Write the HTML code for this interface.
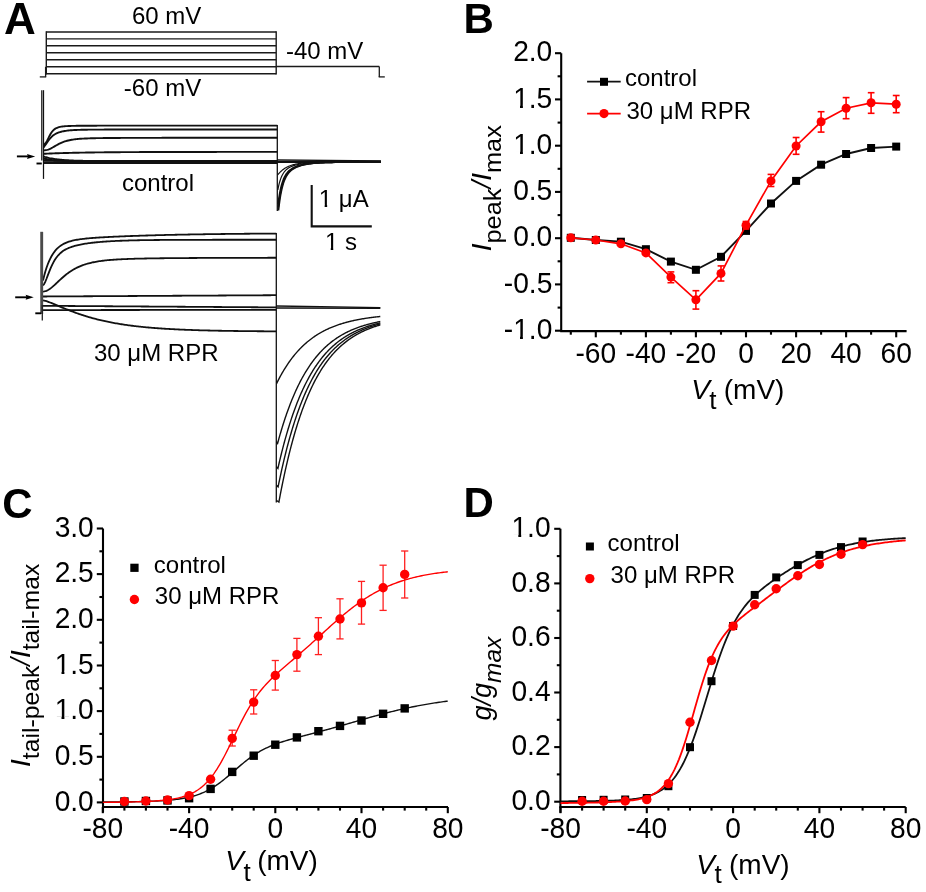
<!DOCTYPE html>
<html><head><meta charset="utf-8"><style>
html,body{margin:0;padding:0;background:#fff;}
svg{display:block;font-family:"Liberation Sans", sans-serif;will-change:transform;}
svg text{fill:#000;}
</style></head><body>
<svg width="926" height="892" viewBox="0 0 926 892">
<rect width="926" height="892" fill="#fff"/>
<text x="4" y="33.5" font-size="44" font-weight="bold">A</text>
<line x1="46.3" y1="32" x2="276.2" y2="32" stroke="#1a1a1a" stroke-width="1.4"/>
<line x1="46.3" y1="38.9" x2="276.2" y2="38.9" stroke="#1a1a1a" stroke-width="1.4"/>
<line x1="46.3" y1="45.8" x2="276.2" y2="45.8" stroke="#1a1a1a" stroke-width="1.4"/>
<line x1="46.3" y1="52.8" x2="276.2" y2="52.8" stroke="#1a1a1a" stroke-width="1.4"/>
<line x1="46.3" y1="59.8" x2="276.2" y2="59.8" stroke="#1a1a1a" stroke-width="1.4"/>
<line x1="46.3" y1="66.8" x2="276.2" y2="66.8" stroke="#1a1a1a" stroke-width="1.4"/>
<line x1="46.3" y1="73.7" x2="276.2" y2="73.7" stroke="#1a1a1a" stroke-width="1.4"/>
<line x1="46.3" y1="31.3" x2="46.3" y2="74.4" stroke="#1a1a1a" stroke-width="1.4"/>
<line x1="276.2" y1="31.3" x2="276.2" y2="74.4" stroke="#1a1a1a" stroke-width="1.4"/>
<line x1="45.6" y1="66.8" x2="45.6" y2="76.9" stroke="#1a1a1a" stroke-width="1.3"/>
<line x1="39.8" y1="76.9" x2="46.2" y2="76.9" stroke="#1a1a1a" stroke-width="1.3"/>
<line x1="276.2" y1="66.5" x2="379.3" y2="66.5" stroke="#1a1a1a" stroke-width="1.4"/>
<line x1="379.3" y1="66.5" x2="379.3" y2="76.9" stroke="#1a1a1a" stroke-width="1.3"/>
<line x1="378.7" y1="76.9" x2="384.8" y2="76.9" stroke="#1a1a1a" stroke-width="1.3"/>
<text x="132" y="24.3" font-size="24">60 mV</text>
<text x="123.8" y="96.4" font-size="24">-60 mV</text>
<text x="286" y="59.3" font-size="24">-40 mV</text>
<path d="M43.60,144.40 L44.77,143.91 L45.95,142.75 L47.12,140.76 L48.30,138.35 L49.47,135.95 L50.65,133.81 L51.82,132.02 L52.99,130.60 L54.17,129.49 L55.34,128.65 L56.52,128.01 L57.69,127.52 L58.87,127.15 L60.04,126.87 L61.22,126.65 L62.39,126.48 L63.56,126.35 L64.74,126.24 L65.91,126.16 L67.09,126.09 L68.26,126.03 L69.44,125.98 L70.61,125.94 L71.78,125.91 L72.96,125.88 L74.13,125.85 L75.31,125.83 L76.48,125.81 L77.66,125.79 L78.83,125.78 L80.01,125.76 L81.18,125.75 L82.35,125.74 L83.53,125.73 L84.70,125.72 L85.88,125.72 L87.05,125.71 L88.23,125.70 L89.40,125.70 L90.57,125.69 L91.75,125.69 L92.92,125.69 L94.10,125.68 L95.27,125.68 L96.45,125.68 L97.62,125.67 L98.80,125.67 L99.97,125.67 L101.14,125.67 L102.32,125.67 L103.49,125.67 L104.67,125.66 L105.84,125.66 L107.02,125.66 L108.19,125.66 L109.36,125.66 L110.54,125.66 L111.71,125.66 L112.89,125.66 L114.06,125.66 L115.24,125.66 L116.41,125.66 L117.59,125.66 L118.76,125.66 L119.93,125.66 L121.11,125.66 L122.28,125.66 L123.46,125.66 L124.63,125.66 L125.81,125.66 L126.98,125.66 L128.15,125.66 L129.33,125.66 L130.50,125.66 L131.68,125.66 L132.85,125.66 L134.03,125.66 L135.20,125.66 L136.38,125.66 L137.55,125.66 L138.72,125.66 L139.90,125.65 L141.07,125.65 L142.25,125.65 L143.42,125.65 L144.60,125.65 L145.77,125.65 L146.94,125.65 L148.12,125.65 L149.29,125.65 L150.47,125.65 L151.64,125.65 L152.82,125.65 L153.99,125.65 L155.17,125.65 L156.34,125.65 L157.51,125.65 L158.69,125.65 L159.86,125.65 L161.04,125.65 L162.21,125.65 L163.39,125.65 L164.56,125.65 L165.73,125.65 L166.91,125.65 L168.08,125.65 L169.26,125.65 L170.43,125.65 L171.61,125.65 L172.78,125.65 L173.96,125.65 L175.13,125.65 L176.30,125.65 L177.48,125.65 L178.65,125.65 L179.83,125.65 L181.00,125.65 L182.18,125.65 L183.35,125.65 L184.52,125.65 L185.70,125.65 L186.87,125.65 L188.05,125.65 L189.22,125.65 L190.40,125.65 L191.57,125.65 L192.75,125.65 L193.92,125.65 L195.09,125.65 L196.27,125.65 L197.44,125.65 L198.62,125.65 L199.79,125.65 L200.97,125.65 L202.14,125.65 L203.31,125.65 L204.49,125.65 L205.66,125.65 L206.84,125.65 L208.01,125.65 L209.19,125.65 L210.36,125.65 L211.54,125.65 L212.71,125.65 L213.88,125.65 L215.06,125.65 L216.23,125.65 L217.41,125.65 L218.58,125.65 L219.76,125.65 L220.93,125.65 L222.10,125.65 L223.28,125.65 L224.45,125.65 L225.63,125.65 L226.80,125.65 L227.98,125.65 L229.15,125.65 L230.33,125.65 L231.50,125.65 L232.67,125.65 L233.85,125.65 L235.02,125.65 L236.20,125.65 L237.37,125.65 L238.55,125.65 L239.72,125.65 L240.89,125.65 L242.07,125.65 L243.24,125.65 L244.42,125.65 L245.59,125.65 L246.77,125.65 L247.94,125.65 L249.12,125.65 L250.29,125.65 L251.46,125.65 L252.64,125.65 L253.81,125.65 L254.99,125.65 L256.16,125.65 L257.34,125.65 L258.51,125.65 L259.68,125.65 L260.86,125.65 L262.03,125.65 L263.21,125.65 L264.38,125.65 L265.56,125.65 L266.73,125.65 L267.91,125.65 L269.08,125.65 L270.25,125.65 L271.43,125.65 L272.60,125.65 L273.78,125.65 L274.95,125.65 L276.13,125.65 L277.30,125.65" fill="none" stroke="#111" stroke-width="1.9"/>
<path d="M43.60,147.40 L44.77,145.76 L45.95,144.14 L47.12,142.46 L48.30,140.80 L49.47,139.24 L50.65,137.85 L51.82,136.64 L52.99,135.61 L54.17,134.74 L55.34,134.00 L56.52,133.38 L57.69,132.86 L58.87,132.42 L60.04,132.04 L61.22,131.72 L62.39,131.44 L63.56,131.21 L64.74,131.00 L65.91,130.82 L67.09,130.66 L68.26,130.53 L69.44,130.41 L70.61,130.31 L71.78,130.22 L72.96,130.14 L74.13,130.07 L75.31,130.01 L76.48,129.95 L77.66,129.90 L78.83,129.86 L80.01,129.83 L81.18,129.79 L82.35,129.76 L83.53,129.74 L84.70,129.72 L85.88,129.70 L87.05,129.68 L88.23,129.67 L89.40,129.65 L90.57,129.64 L91.75,129.63 L92.92,129.62 L94.10,129.61 L95.27,129.61 L96.45,129.60 L97.62,129.59 L98.80,129.59 L99.97,129.59 L101.14,129.58 L102.32,129.58 L103.49,129.58 L104.67,129.57 L105.84,129.57 L107.02,129.57 L108.19,129.57 L109.36,129.57 L110.54,129.56 L111.71,129.56 L112.89,129.56 L114.06,129.56 L115.24,129.56 L116.41,129.56 L117.59,129.56 L118.76,129.56 L119.93,129.56 L121.11,129.56 L122.28,129.56 L123.46,129.56 L124.63,129.56 L125.81,129.56 L126.98,129.56 L128.15,129.56 L129.33,129.56 L130.50,129.56 L131.68,129.55 L132.85,129.55 L134.03,129.55 L135.20,129.55 L136.38,129.55 L137.55,129.55 L138.72,129.55 L139.90,129.55 L141.07,129.55 L142.25,129.55 L143.42,129.55 L144.60,129.55 L145.77,129.55 L146.94,129.55 L148.12,129.55 L149.29,129.55 L150.47,129.55 L151.64,129.55 L152.82,129.55 L153.99,129.55 L155.17,129.55 L156.34,129.55 L157.51,129.55 L158.69,129.55 L159.86,129.55 L161.04,129.55 L162.21,129.55 L163.39,129.55 L164.56,129.55 L165.73,129.55 L166.91,129.55 L168.08,129.55 L169.26,129.55 L170.43,129.55 L171.61,129.55 L172.78,129.55 L173.96,129.55 L175.13,129.55 L176.30,129.55 L177.48,129.55 L178.65,129.55 L179.83,129.55 L181.00,129.55 L182.18,129.55 L183.35,129.55 L184.52,129.55 L185.70,129.55 L186.87,129.55 L188.05,129.55 L189.22,129.55 L190.40,129.55 L191.57,129.55 L192.75,129.55 L193.92,129.55 L195.09,129.55 L196.27,129.55 L197.44,129.55 L198.62,129.55 L199.79,129.55 L200.97,129.55 L202.14,129.55 L203.31,129.55 L204.49,129.55 L205.66,129.55 L206.84,129.55 L208.01,129.55 L209.19,129.55 L210.36,129.55 L211.54,129.55 L212.71,129.55 L213.88,129.55 L215.06,129.55 L216.23,129.55 L217.41,129.55 L218.58,129.55 L219.76,129.55 L220.93,129.55 L222.10,129.55 L223.28,129.55 L224.45,129.55 L225.63,129.55 L226.80,129.55 L227.98,129.55 L229.15,129.55 L230.33,129.55 L231.50,129.55 L232.67,129.55 L233.85,129.55 L235.02,129.55 L236.20,129.55 L237.37,129.55 L238.55,129.55 L239.72,129.55 L240.89,129.55 L242.07,129.55 L243.24,129.55 L244.42,129.55 L245.59,129.55 L246.77,129.55 L247.94,129.55 L249.12,129.55 L250.29,129.55 L251.46,129.55 L252.64,129.55 L253.81,129.55 L254.99,129.55 L256.16,129.55 L257.34,129.55 L258.51,129.55 L259.68,129.55 L260.86,129.55 L262.03,129.55 L263.21,129.55 L264.38,129.55 L265.56,129.55 L266.73,129.55 L267.91,129.55 L269.08,129.55 L270.25,129.55 L271.43,129.55 L272.60,129.55 L273.78,129.55 L274.95,129.55 L276.13,129.55 L277.30,129.55" fill="none" stroke="#111" stroke-width="1.9"/>
<path d="M43.60,150.40 L44.77,150.28 L45.95,150.13 L47.12,149.90 L48.30,149.57 L49.47,149.13 L50.65,148.58 L51.82,147.96 L52.99,147.29 L54.17,146.60 L55.34,145.89 L56.52,145.21 L57.69,144.55 L58.87,143.92 L60.04,143.34 L61.22,142.80 L62.39,142.30 L63.56,141.85 L64.74,141.45 L65.91,141.08 L67.09,140.75 L68.26,140.46 L69.44,140.20 L70.61,139.96 L71.78,139.76 L72.96,139.57 L74.13,139.41 L75.31,139.26 L76.48,139.13 L77.66,139.01 L78.83,138.91 L80.01,138.82 L81.18,138.73 L82.35,138.66 L83.53,138.59 L84.70,138.53 L85.88,138.48 L87.05,138.43 L88.23,138.39 L89.40,138.35 L90.57,138.31 L91.75,138.28 L92.92,138.25 L94.10,138.22 L95.27,138.20 L96.45,138.17 L97.62,138.15 L98.80,138.13 L99.97,138.11 L101.14,138.09 L102.32,138.08 L103.49,138.06 L104.67,138.05 L105.84,138.04 L107.02,138.02 L108.19,138.01 L109.36,138.00 L110.54,137.99 L111.71,137.98 L112.89,137.97 L114.06,137.97 L115.24,137.96 L116.41,137.95 L117.59,137.94 L118.76,137.94 L119.93,137.93 L121.11,137.92 L122.28,137.92 L123.46,137.91 L124.63,137.91 L125.81,137.90 L126.98,137.90 L128.15,137.89 L129.33,137.89 L130.50,137.88 L131.68,137.88 L132.85,137.88 L134.03,137.87 L135.20,137.87 L136.38,137.87 L137.55,137.86 L138.72,137.86 L139.90,137.86 L141.07,137.86 L142.25,137.85 L143.42,137.85 L144.60,137.85 L145.77,137.85 L146.94,137.84 L148.12,137.84 L149.29,137.84 L150.47,137.84 L151.64,137.84 L152.82,137.83 L153.99,137.83 L155.17,137.83 L156.34,137.83 L157.51,137.83 L158.69,137.83 L159.86,137.83 L161.04,137.83 L162.21,137.82 L163.39,137.82 L164.56,137.82 L165.73,137.82 L166.91,137.82 L168.08,137.82 L169.26,137.82 L170.43,137.82 L171.61,137.82 L172.78,137.82 L173.96,137.82 L175.13,137.81 L176.30,137.81 L177.48,137.81 L178.65,137.81 L179.83,137.81 L181.00,137.81 L182.18,137.81 L183.35,137.81 L184.52,137.81 L185.70,137.81 L186.87,137.81 L188.05,137.81 L189.22,137.81 L190.40,137.81 L191.57,137.81 L192.75,137.81 L193.92,137.81 L195.09,137.81 L196.27,137.81 L197.44,137.81 L198.62,137.81 L199.79,137.81 L200.97,137.81 L202.14,137.81 L203.31,137.80 L204.49,137.80 L205.66,137.80 L206.84,137.80 L208.01,137.80 L209.19,137.80 L210.36,137.80 L211.54,137.80 L212.71,137.80 L213.88,137.80 L215.06,137.80 L216.23,137.80 L217.41,137.80 L218.58,137.80 L219.76,137.80 L220.93,137.80 L222.10,137.80 L223.28,137.80 L224.45,137.80 L225.63,137.80 L226.80,137.80 L227.98,137.80 L229.15,137.80 L230.33,137.80 L231.50,137.80 L232.67,137.80 L233.85,137.80 L235.02,137.80 L236.20,137.80 L237.37,137.80 L238.55,137.80 L239.72,137.80 L240.89,137.80 L242.07,137.80 L243.24,137.80 L244.42,137.80 L245.59,137.80 L246.77,137.80 L247.94,137.80 L249.12,137.80 L250.29,137.80 L251.46,137.80 L252.64,137.80 L253.81,137.80 L254.99,137.80 L256.16,137.80 L257.34,137.80 L258.51,137.80 L259.68,137.80 L260.86,137.80 L262.03,137.80 L263.21,137.80 L264.38,137.80 L265.56,137.80 L266.73,137.80 L267.91,137.80 L269.08,137.80 L270.25,137.80 L271.43,137.80 L272.60,137.80 L273.78,137.80 L274.95,137.80 L276.13,137.80 L277.30,137.80" fill="none" stroke="#111" stroke-width="1.9"/>
<path d="M43.60,153.80 L44.77,153.75 L45.95,153.69 L47.12,153.64 L48.30,153.59 L49.47,153.54 L50.65,153.49 L51.82,153.45 L52.99,153.40 L54.17,153.36 L55.34,153.32 L56.52,153.28 L57.69,153.24 L58.87,153.20 L60.04,153.16 L61.22,153.12 L62.39,153.09 L63.56,153.05 L64.74,153.02 L65.91,152.99 L67.09,152.96 L68.26,152.93 L69.44,152.90 L70.61,152.87 L71.78,152.84 L72.96,152.81 L74.13,152.79 L75.31,152.76 L76.48,152.74 L77.66,152.71 L78.83,152.69 L80.01,152.66 L81.18,152.64 L82.35,152.62 L83.53,152.60 L84.70,152.58 L85.88,152.56 L87.05,152.54 L88.23,152.52 L89.40,152.50 L90.57,152.49 L91.75,152.47 L92.92,152.45 L94.10,152.44 L95.27,152.42 L96.45,152.41 L97.62,152.39 L98.80,152.38 L99.97,152.36 L101.14,152.35 L102.32,152.34 L103.49,152.33 L104.67,152.31 L105.84,152.30 L107.02,152.29 L108.19,152.28 L109.36,152.27 L110.54,152.26 L111.71,152.25 L112.89,152.24 L114.06,152.23 L115.24,152.22 L116.41,152.21 L117.59,152.20 L118.76,152.19 L119.93,152.18 L121.11,152.17 L122.28,152.17 L123.46,152.16 L124.63,152.15 L125.81,152.14 L126.98,152.14 L128.15,152.13 L129.33,152.12 L130.50,152.12 L131.68,152.11 L132.85,152.10 L134.03,152.10 L135.20,152.09 L136.38,152.09 L137.55,152.08 L138.72,152.08 L139.90,152.07 L141.07,152.07 L142.25,152.06 L143.42,152.06 L144.60,152.05 L145.77,152.05 L146.94,152.04 L148.12,152.04 L149.29,152.04 L150.47,152.03 L151.64,152.03 L152.82,152.02 L153.99,152.02 L155.17,152.02 L156.34,152.01 L157.51,152.01 L158.69,152.01 L159.86,152.00 L161.04,152.00 L162.21,152.00 L163.39,152.00 L164.56,151.99 L165.73,151.99 L166.91,151.99 L168.08,151.98 L169.26,151.98 L170.43,151.98 L171.61,151.98 L172.78,151.98 L173.96,151.97 L175.13,151.97 L176.30,151.97 L177.48,151.97 L178.65,151.96 L179.83,151.96 L181.00,151.96 L182.18,151.96 L183.35,151.96 L184.52,151.96 L185.70,151.95 L186.87,151.95 L188.05,151.95 L189.22,151.95 L190.40,151.95 L191.57,151.95 L192.75,151.95 L193.92,151.94 L195.09,151.94 L196.27,151.94 L197.44,151.94 L198.62,151.94 L199.79,151.94 L200.97,151.94 L202.14,151.94 L203.31,151.94 L204.49,151.93 L205.66,151.93 L206.84,151.93 L208.01,151.93 L209.19,151.93 L210.36,151.93 L211.54,151.93 L212.71,151.93 L213.88,151.93 L215.06,151.93 L216.23,151.93 L217.41,151.92 L218.58,151.92 L219.76,151.92 L220.93,151.92 L222.10,151.92 L223.28,151.92 L224.45,151.92 L225.63,151.92 L226.80,151.92 L227.98,151.92 L229.15,151.92 L230.33,151.92 L231.50,151.92 L232.67,151.92 L233.85,151.92 L235.02,151.92 L236.20,151.92 L237.37,151.91 L238.55,151.91 L239.72,151.91 L240.89,151.91 L242.07,151.91 L243.24,151.91 L244.42,151.91 L245.59,151.91 L246.77,151.91 L247.94,151.91 L249.12,151.91 L250.29,151.91 L251.46,151.91 L252.64,151.91 L253.81,151.91 L254.99,151.91 L256.16,151.91 L257.34,151.91 L258.51,151.91 L259.68,151.91 L260.86,151.91 L262.03,151.91 L263.21,151.91 L264.38,151.91 L265.56,151.91 L266.73,151.91 L267.91,151.91 L269.08,151.91 L270.25,151.91 L271.43,151.91 L272.60,151.91 L273.78,151.91 L274.95,151.91 L276.13,151.91 L277.30,151.91" fill="none" stroke="#111" stroke-width="1.9"/>
<path d="M43.60,156.50 L44.77,156.87 L45.95,157.21 L47.12,157.52 L48.30,157.81 L49.47,158.08 L50.65,158.32 L51.82,158.54 L52.99,158.75 L54.17,158.94 L55.34,159.11 L56.52,159.27 L57.69,159.42 L58.87,159.55 L60.04,159.68 L61.22,159.79 L62.39,159.90 L63.56,159.99 L64.74,160.08 L65.91,160.17 L67.09,160.24 L68.26,160.31 L69.44,160.37 L70.61,160.43 L71.78,160.49 L72.96,160.54 L74.13,160.58 L75.31,160.62 L76.48,160.66 L77.66,160.70 L78.83,160.73 L80.01,160.76 L81.18,160.79 L82.35,160.81 L83.53,160.83 L84.70,160.86 L85.88,160.88 L87.05,160.89 L88.23,160.91 L89.40,160.93 L90.57,160.94 L91.75,160.95 L92.92,160.96 L94.10,160.98 L95.27,160.99 L96.45,160.99 L97.62,161.00 L98.80,161.01 L99.97,161.02 L101.14,161.02 L102.32,161.03 L103.49,161.04 L104.67,161.04 L105.84,161.05 L107.02,161.05 L108.19,161.05 L109.36,161.06 L110.54,161.06 L111.71,161.06 L112.89,161.07 L114.06,161.07 L115.24,161.07 L116.41,161.07 L117.59,161.08 L118.76,161.08 L119.93,161.08 L121.11,161.08 L122.28,161.08 L123.46,161.08 L124.63,161.09 L125.81,161.09 L126.98,161.09 L128.15,161.09 L129.33,161.09 L130.50,161.09 L131.68,161.09 L132.85,161.09 L134.03,161.09 L135.20,161.09 L136.38,161.09 L137.55,161.09 L138.72,161.09 L139.90,161.10 L141.07,161.10 L142.25,161.10 L143.42,161.10 L144.60,161.10 L145.77,161.10 L146.94,161.10 L148.12,161.10 L149.29,161.10 L150.47,161.10 L151.64,161.10 L152.82,161.10 L153.99,161.10 L155.17,161.10 L156.34,161.10 L157.51,161.10 L158.69,161.10 L159.86,161.10 L161.04,161.10 L162.21,161.10 L163.39,161.10 L164.56,161.10 L165.73,161.10 L166.91,161.10 L168.08,161.10 L169.26,161.10 L170.43,161.10 L171.61,161.10 L172.78,161.10 L173.96,161.10 L175.13,161.10 L176.30,161.10 L177.48,161.10 L178.65,161.10 L179.83,161.10 L181.00,161.10 L182.18,161.10 L183.35,161.10 L184.52,161.10 L185.70,161.10 L186.87,161.10 L188.05,161.10 L189.22,161.10 L190.40,161.10 L191.57,161.10 L192.75,161.10 L193.92,161.10 L195.09,161.10 L196.27,161.10 L197.44,161.10 L198.62,161.10 L199.79,161.10 L200.97,161.10 L202.14,161.10 L203.31,161.10 L204.49,161.10 L205.66,161.10 L206.84,161.10 L208.01,161.10 L209.19,161.10 L210.36,161.10 L211.54,161.10 L212.71,161.10 L213.88,161.10 L215.06,161.10 L216.23,161.10 L217.41,161.10 L218.58,161.10 L219.76,161.10 L220.93,161.10 L222.10,161.10 L223.28,161.10 L224.45,161.10 L225.63,161.10 L226.80,161.10 L227.98,161.10 L229.15,161.10 L230.33,161.10 L231.50,161.10 L232.67,161.10 L233.85,161.10 L235.02,161.10 L236.20,161.10 L237.37,161.10 L238.55,161.10 L239.72,161.10 L240.89,161.10 L242.07,161.10 L243.24,161.10 L244.42,161.10 L245.59,161.10 L246.77,161.10 L247.94,161.10 L249.12,161.10 L250.29,161.10 L251.46,161.10 L252.64,161.10 L253.81,161.10 L254.99,161.10 L256.16,161.10 L257.34,161.10 L258.51,161.10 L259.68,161.10 L260.86,161.10 L262.03,161.10 L263.21,161.10 L264.38,161.10 L265.56,161.10 L266.73,161.10 L267.91,161.10 L269.08,161.10 L270.25,161.10 L271.43,161.10 L272.60,161.10 L273.78,161.10 L274.95,161.10 L276.13,161.10 L277.30,161.10" fill="none" stroke="#111" stroke-width="1.9"/>
<path d="M43.60,158.50 L44.77,158.79 L45.95,159.04 L47.12,159.27 L48.30,159.47 L49.47,159.65 L50.65,159.81 L51.82,159.96 L52.99,160.08 L54.17,160.20 L55.34,160.30 L56.52,160.39 L57.69,160.46 L58.87,160.54 L60.04,160.60 L61.22,160.65 L62.39,160.70 L63.56,160.75 L64.74,160.79 L65.91,160.82 L67.09,160.85 L68.26,160.88 L69.44,160.90 L70.61,160.93 L71.78,160.94 L72.96,160.96 L74.13,160.98 L75.31,160.99 L76.48,161.00 L77.66,161.01 L78.83,161.02 L80.01,161.03 L81.18,161.04 L82.35,161.05 L83.53,161.05 L84.70,161.06 L85.88,161.06 L87.05,161.07 L88.23,161.07 L89.40,161.07 L90.57,161.08 L91.75,161.08 L92.92,161.08 L94.10,161.08 L95.27,161.09 L96.45,161.09 L97.62,161.09 L98.80,161.09 L99.97,161.09 L101.14,161.09 L102.32,161.09 L103.49,161.09 L104.67,161.09 L105.84,161.09 L107.02,161.10 L108.19,161.10 L109.36,161.10 L110.54,161.10 L111.71,161.10 L112.89,161.10 L114.06,161.10 L115.24,161.10 L116.41,161.10 L117.59,161.10 L118.76,161.10 L119.93,161.10 L121.11,161.10 L122.28,161.10 L123.46,161.10 L124.63,161.10 L125.81,161.10 L126.98,161.10 L128.15,161.10 L129.33,161.10 L130.50,161.10 L131.68,161.10 L132.85,161.10 L134.03,161.10 L135.20,161.10 L136.38,161.10 L137.55,161.10 L138.72,161.10 L139.90,161.10 L141.07,161.10 L142.25,161.10 L143.42,161.10 L144.60,161.10 L145.77,161.10 L146.94,161.10 L148.12,161.10 L149.29,161.10 L150.47,161.10 L151.64,161.10 L152.82,161.10 L153.99,161.10 L155.17,161.10 L156.34,161.10 L157.51,161.10 L158.69,161.10 L159.86,161.10 L161.04,161.10 L162.21,161.10 L163.39,161.10 L164.56,161.10 L165.73,161.10 L166.91,161.10 L168.08,161.10 L169.26,161.10 L170.43,161.10 L171.61,161.10 L172.78,161.10 L173.96,161.10 L175.13,161.10 L176.30,161.10 L177.48,161.10 L178.65,161.10 L179.83,161.10 L181.00,161.10 L182.18,161.10 L183.35,161.10 L184.52,161.10 L185.70,161.10 L186.87,161.10 L188.05,161.10 L189.22,161.10 L190.40,161.10 L191.57,161.10 L192.75,161.10 L193.92,161.10 L195.09,161.10 L196.27,161.10 L197.44,161.10 L198.62,161.10 L199.79,161.10 L200.97,161.10 L202.14,161.10 L203.31,161.10 L204.49,161.10 L205.66,161.10 L206.84,161.10 L208.01,161.10 L209.19,161.10 L210.36,161.10 L211.54,161.10 L212.71,161.10 L213.88,161.10 L215.06,161.10 L216.23,161.10 L217.41,161.10 L218.58,161.10 L219.76,161.10 L220.93,161.10 L222.10,161.10 L223.28,161.10 L224.45,161.10 L225.63,161.10 L226.80,161.10 L227.98,161.10 L229.15,161.10 L230.33,161.10 L231.50,161.10 L232.67,161.10 L233.85,161.10 L235.02,161.10 L236.20,161.10 L237.37,161.10 L238.55,161.10 L239.72,161.10 L240.89,161.10 L242.07,161.10 L243.24,161.10 L244.42,161.10 L245.59,161.10 L246.77,161.10 L247.94,161.10 L249.12,161.10 L250.29,161.10 L251.46,161.10 L252.64,161.10 L253.81,161.10 L254.99,161.10 L256.16,161.10 L257.34,161.10 L258.51,161.10 L259.68,161.10 L260.86,161.10 L262.03,161.10 L263.21,161.10 L264.38,161.10 L265.56,161.10 L266.73,161.10 L267.91,161.10 L269.08,161.10 L270.25,161.10 L271.43,161.10 L272.60,161.10 L273.78,161.10 L274.95,161.10 L276.13,161.10 L277.30,161.10" fill="none" stroke="#111" stroke-width="1.9"/>
<path d="M43.60,160.30 L44.77,160.37 L45.95,160.43 L47.12,160.48 L48.30,160.52 L49.47,160.57 L50.65,160.60 L51.82,160.64 L52.99,160.67 L54.17,160.69 L55.34,160.71 L56.52,160.74 L57.69,160.75 L58.87,160.77 L60.04,160.78 L61.22,160.80 L62.39,160.81 L63.56,160.82 L64.74,160.83 L65.91,160.84 L67.09,160.84 L68.26,160.85 L69.44,160.85 L70.61,160.86 L71.78,160.86 L72.96,160.87 L74.13,160.87 L75.31,160.87 L76.48,160.88 L77.66,160.88 L78.83,160.88 L80.01,160.88 L81.18,160.89 L82.35,160.89 L83.53,160.89 L84.70,160.89 L85.88,160.89 L87.05,160.89 L88.23,160.89 L89.40,160.89 L90.57,160.89 L91.75,160.90 L92.92,160.90 L94.10,160.90 L95.27,160.90 L96.45,160.90 L97.62,160.90 L98.80,160.90 L99.97,160.90 L101.14,160.90 L102.32,160.90 L103.49,160.90 L104.67,160.90 L105.84,160.90 L107.02,160.90 L108.19,160.90 L109.36,160.90 L110.54,160.90 L111.71,160.90 L112.89,160.90 L114.06,160.90 L115.24,160.90 L116.41,160.90 L117.59,160.90 L118.76,160.90 L119.93,160.90 L121.11,160.90 L122.28,160.90 L123.46,160.90 L124.63,160.90 L125.81,160.90 L126.98,160.90 L128.15,160.90 L129.33,160.90 L130.50,160.90 L131.68,160.90 L132.85,160.90 L134.03,160.90 L135.20,160.90 L136.38,160.90 L137.55,160.90 L138.72,160.90 L139.90,160.90 L141.07,160.90 L142.25,160.90 L143.42,160.90 L144.60,160.90 L145.77,160.90 L146.94,160.90 L148.12,160.90 L149.29,160.90 L150.47,160.90 L151.64,160.90 L152.82,160.90 L153.99,160.90 L155.17,160.90 L156.34,160.90 L157.51,160.90 L158.69,160.90 L159.86,160.90 L161.04,160.90 L162.21,160.90 L163.39,160.90 L164.56,160.90 L165.73,160.90 L166.91,160.90 L168.08,160.90 L169.26,160.90 L170.43,160.90 L171.61,160.90 L172.78,160.90 L173.96,160.90 L175.13,160.90 L176.30,160.90 L177.48,160.90 L178.65,160.90 L179.83,160.90 L181.00,160.90 L182.18,160.90 L183.35,160.90 L184.52,160.90 L185.70,160.90 L186.87,160.90 L188.05,160.90 L189.22,160.90 L190.40,160.90 L191.57,160.90 L192.75,160.90 L193.92,160.90 L195.09,160.90 L196.27,160.90 L197.44,160.90 L198.62,160.90 L199.79,160.90 L200.97,160.90 L202.14,160.90 L203.31,160.90 L204.49,160.90 L205.66,160.90 L206.84,160.90 L208.01,160.90 L209.19,160.90 L210.36,160.90 L211.54,160.90 L212.71,160.90 L213.88,160.90 L215.06,160.90 L216.23,160.90 L217.41,160.90 L218.58,160.90 L219.76,160.90 L220.93,160.90 L222.10,160.90 L223.28,160.90 L224.45,160.90 L225.63,160.90 L226.80,160.90 L227.98,160.90 L229.15,160.90 L230.33,160.90 L231.50,160.90 L232.67,160.90 L233.85,160.90 L235.02,160.90 L236.20,160.90 L237.37,160.90 L238.55,160.90 L239.72,160.90 L240.89,160.90 L242.07,160.90 L243.24,160.90 L244.42,160.90 L245.59,160.90 L246.77,160.90 L247.94,160.90 L249.12,160.90 L250.29,160.90 L251.46,160.90 L252.64,160.90 L253.81,160.90 L254.99,160.90 L256.16,160.90 L257.34,160.90 L258.51,160.90 L259.68,160.90 L260.86,160.90 L262.03,160.90 L263.21,160.90 L264.38,160.90 L265.56,160.90 L266.73,160.90 L267.91,160.90 L269.08,160.90 L270.25,160.90 L271.43,160.90 L272.60,160.90 L273.78,160.90 L274.95,160.90 L276.13,160.90 L277.30,160.90" fill="none" stroke="#111" stroke-width="1.9"/>
<path d="M43.60,162.30 L44.77,162.30 L45.95,162.30 L47.12,162.30 L48.30,162.30 L49.47,162.30 L50.65,162.30 L51.82,162.30 L52.99,162.30 L54.17,162.30 L55.34,162.30 L56.52,162.30 L57.69,162.30 L58.87,162.30 L60.04,162.30 L61.22,162.30 L62.39,162.30 L63.56,162.30 L64.74,162.30 L65.91,162.30 L67.09,162.30 L68.26,162.30 L69.44,162.30 L70.61,162.30 L71.78,162.30 L72.96,162.30 L74.13,162.30 L75.31,162.30 L76.48,162.30 L77.66,162.30 L78.83,162.30 L80.01,162.30 L81.18,162.30 L82.35,162.30 L83.53,162.30 L84.70,162.30 L85.88,162.30 L87.05,162.30 L88.23,162.30 L89.40,162.30 L90.57,162.30 L91.75,162.30 L92.92,162.30 L94.10,162.30 L95.27,162.30 L96.45,162.30 L97.62,162.30 L98.80,162.30 L99.97,162.30 L101.14,162.30 L102.32,162.30 L103.49,162.30 L104.67,162.30 L105.84,162.30 L107.02,162.30 L108.19,162.30 L109.36,162.30 L110.54,162.30 L111.71,162.30 L112.89,162.30 L114.06,162.30 L115.24,162.30 L116.41,162.30 L117.59,162.30 L118.76,162.30 L119.93,162.30 L121.11,162.30 L122.28,162.30 L123.46,162.30 L124.63,162.30 L125.81,162.30 L126.98,162.30 L128.15,162.30 L129.33,162.30 L130.50,162.30 L131.68,162.30 L132.85,162.30 L134.03,162.30 L135.20,162.30 L136.38,162.30 L137.55,162.30 L138.72,162.30 L139.90,162.30 L141.07,162.30 L142.25,162.30 L143.42,162.30 L144.60,162.30 L145.77,162.30 L146.94,162.30 L148.12,162.30 L149.29,162.30 L150.47,162.30 L151.64,162.30 L152.82,162.30 L153.99,162.30 L155.17,162.30 L156.34,162.30 L157.51,162.30 L158.69,162.30 L159.86,162.30 L161.04,162.30 L162.21,162.30 L163.39,162.30 L164.56,162.30 L165.73,162.30 L166.91,162.30 L168.08,162.30 L169.26,162.30 L170.43,162.30 L171.61,162.30 L172.78,162.30 L173.96,162.30 L175.13,162.30 L176.30,162.30 L177.48,162.30 L178.65,162.30 L179.83,162.30 L181.00,162.30 L182.18,162.30 L183.35,162.30 L184.52,162.30 L185.70,162.30 L186.87,162.30 L188.05,162.30 L189.22,162.30 L190.40,162.30 L191.57,162.30 L192.75,162.30 L193.92,162.30 L195.09,162.30 L196.27,162.30 L197.44,162.30 L198.62,162.30 L199.79,162.30 L200.97,162.30 L202.14,162.30 L203.31,162.30 L204.49,162.30 L205.66,162.30 L206.84,162.30 L208.01,162.30 L209.19,162.30 L210.36,162.30 L211.54,162.30 L212.71,162.30 L213.88,162.30 L215.06,162.30 L216.23,162.30 L217.41,162.30 L218.58,162.30 L219.76,162.30 L220.93,162.30 L222.10,162.30 L223.28,162.30 L224.45,162.30 L225.63,162.30 L226.80,162.30 L227.98,162.30 L229.15,162.30 L230.33,162.30 L231.50,162.30 L232.67,162.30 L233.85,162.30 L235.02,162.30 L236.20,162.30 L237.37,162.30 L238.55,162.30 L239.72,162.30 L240.89,162.30 L242.07,162.30 L243.24,162.30 L244.42,162.30 L245.59,162.30 L246.77,162.30 L247.94,162.30 L249.12,162.30 L250.29,162.30 L251.46,162.30 L252.64,162.30 L253.81,162.30 L254.99,162.30 L256.16,162.30 L257.34,162.30 L258.51,162.30 L259.68,162.30 L260.86,162.30 L262.03,162.30 L263.21,162.30 L264.38,162.30 L265.56,162.30 L266.73,162.30 L267.91,162.30 L269.08,162.30 L270.25,162.30 L271.43,162.30 L272.60,162.30 L273.78,162.30 L274.95,162.30 L276.13,162.30 L277.30,162.30" fill="none" stroke="#111" stroke-width="1.9"/>
<path d="M43.60,163.00 L44.77,163.00 L45.95,163.00 L47.12,163.00 L48.30,163.00 L49.47,163.00 L50.65,163.00 L51.82,163.00 L52.99,163.00 L54.17,163.00 L55.34,163.00 L56.52,163.00 L57.69,163.00 L58.87,163.00 L60.04,163.00 L61.22,163.00 L62.39,163.00 L63.56,163.00 L64.74,163.00 L65.91,163.00 L67.09,163.00 L68.26,163.00 L69.44,163.00 L70.61,163.00 L71.78,163.00 L72.96,163.00 L74.13,163.00 L75.31,163.00 L76.48,163.00 L77.66,163.00 L78.83,163.00 L80.01,163.00 L81.18,163.00 L82.35,163.00 L83.53,163.00 L84.70,163.00 L85.88,163.00 L87.05,163.00 L88.23,163.00 L89.40,163.00 L90.57,163.00 L91.75,163.00 L92.92,163.00 L94.10,163.00 L95.27,163.00 L96.45,163.00 L97.62,163.00 L98.80,163.00 L99.97,163.00 L101.14,163.00 L102.32,163.00 L103.49,163.00 L104.67,163.00 L105.84,163.00 L107.02,163.00 L108.19,163.00 L109.36,163.00 L110.54,163.00 L111.71,163.00 L112.89,163.00 L114.06,163.00 L115.24,163.00 L116.41,163.00 L117.59,163.00 L118.76,163.00 L119.93,163.00 L121.11,163.00 L122.28,163.00 L123.46,163.00 L124.63,163.00 L125.81,163.00 L126.98,163.00 L128.15,163.00 L129.33,163.00 L130.50,163.00 L131.68,163.00 L132.85,163.00 L134.03,163.00 L135.20,163.00 L136.38,163.00 L137.55,163.00 L138.72,163.00 L139.90,163.00 L141.07,163.00 L142.25,163.00 L143.42,163.00 L144.60,163.00 L145.77,163.00 L146.94,163.00 L148.12,163.00 L149.29,163.00 L150.47,163.00 L151.64,163.00 L152.82,163.00 L153.99,163.00 L155.17,163.00 L156.34,163.00 L157.51,163.00 L158.69,163.00 L159.86,163.00 L161.04,163.00 L162.21,163.00 L163.39,163.00 L164.56,163.00 L165.73,163.00 L166.91,163.00 L168.08,163.00 L169.26,163.00 L170.43,163.00 L171.61,163.00 L172.78,163.00 L173.96,163.00 L175.13,163.00 L176.30,163.00 L177.48,163.00 L178.65,163.00 L179.83,163.00 L181.00,163.00 L182.18,163.00 L183.35,163.00 L184.52,163.00 L185.70,163.00 L186.87,163.00 L188.05,163.00 L189.22,163.00 L190.40,163.00 L191.57,163.00 L192.75,163.00 L193.92,163.00 L195.09,163.00 L196.27,163.00 L197.44,163.00 L198.62,163.00 L199.79,163.00 L200.97,163.00 L202.14,163.00 L203.31,163.00 L204.49,163.00 L205.66,163.00 L206.84,163.00 L208.01,163.00 L209.19,163.00 L210.36,163.00 L211.54,163.00 L212.71,163.00 L213.88,163.00 L215.06,163.00 L216.23,163.00 L217.41,163.00 L218.58,163.00 L219.76,163.00 L220.93,163.00 L222.10,163.00 L223.28,163.00 L224.45,163.00 L225.63,163.00 L226.80,163.00 L227.98,163.00 L229.15,163.00 L230.33,163.00 L231.50,163.00 L232.67,163.00 L233.85,163.00 L235.02,163.00 L236.20,163.00 L237.37,163.00 L238.55,163.00 L239.72,163.00 L240.89,163.00 L242.07,163.00 L243.24,163.00 L244.42,163.00 L245.59,163.00 L246.77,163.00 L247.94,163.00 L249.12,163.00 L250.29,163.00 L251.46,163.00 L252.64,163.00 L253.81,163.00 L254.99,163.00 L256.16,163.00 L257.34,163.00 L258.51,163.00 L259.68,163.00 L260.86,163.00 L262.03,163.00 L263.21,163.00 L264.38,163.00 L265.56,163.00 L266.73,163.00 L267.91,163.00 L269.08,163.00 L270.25,163.00 L271.43,163.00 L272.60,163.00 L273.78,163.00 L274.95,163.00 L276.13,163.00 L277.30,163.00" fill="none" stroke="#111" stroke-width="1.9"/>
<line x1="41.8" y1="90.2" x2="41.8" y2="160.5" stroke="#111" stroke-width="1.25"/>
<line x1="43.5" y1="90.2" x2="43.5" y2="178.9" stroke="#111" stroke-width="1.25"/>
<line x1="16.9" y1="156.4" x2="30" y2="156.4" stroke="#000" stroke-width="1.9"/>
<path d="M27,153.9 L35.2,156.4 L27,158.9 L28,156.4 Z" fill="#000"/>
<line x1="36.5" y1="163.5" x2="41.8" y2="163.5" stroke="#000" stroke-width="1.9"/>
<line x1="277.3" y1="125" x2="277.3" y2="211" stroke="#111" stroke-width="1.3"/>
<path d="M277.3,159.8 L380.9,161.0" fill="none" stroke="#111" stroke-width="1.3"/>
<path d="M277.3,161.8 L380.9,161.8" fill="none" stroke="#111" stroke-width="2.6"/>
<path d="M277.60,175.00 L278.29,174.13 L278.99,173.32 L279.68,172.56 L280.37,171.85 L281.07,171.19 L281.76,170.58 L282.45,170.00 L283.15,169.47 L283.84,168.97 L284.53,168.50 L285.23,168.06 L285.92,167.66 L286.61,167.28 L287.31,166.93 L288.00,166.60 L288.69,166.29 L289.39,166.00 L290.08,165.73 L290.77,165.48 L291.47,165.25 L292.16,165.03 L292.85,164.83 L293.55,164.64 L294.24,164.46 L294.93,164.30 L295.63,164.14 L296.32,164.00 L297.01,163.87 L297.71,163.74 L298.40,163.62 L299.09,163.52 L299.79,163.41 L300.48,163.32 L301.17,163.23 L301.87,163.15 L302.56,163.07 L303.25,163.00 L303.94,162.93 L304.64,162.87 L305.33,162.81 L306.02,162.76 L306.72,162.71 L307.41,162.66 L308.10,162.62 L308.80,162.57 L309.49,162.54 L310.18,162.50 L310.88,162.47 L311.57,162.44 L312.26,162.41 L312.96,162.38 L313.65,162.35 L314.34,162.33 L315.04,162.31 L315.73,162.29 L316.42,162.27 L317.12,162.25 L317.81,162.23 L318.50,162.22 L319.20,162.20 L319.89,162.19 L320.58,162.18 L321.28,162.16 L321.97,162.15 L322.66,162.14 L323.36,162.13 L324.05,162.12 L324.74,162.12 L325.44,162.11 L326.13,162.10 L326.82,162.09 L327.52,162.09 L328.21,162.08 L328.90,162.08 L329.60,162.07 L330.29,162.07 L330.98,162.06 L331.68,162.06 L332.37,162.05 L333.06,162.05 L333.76,162.05 L334.45,162.04 L335.14,162.04 L335.84,162.04 L336.53,162.04 L337.22,162.03 L337.92,162.03 L338.61,162.03 L339.30,162.03 L340.00,162.03 L340.69,162.02 L341.38,162.02 L342.08,162.02 L342.77,162.02 L343.46,162.02 L344.16,162.02 L344.85,162.02 L345.54,162.01 L346.24,162.01 L346.93,162.01 L347.62,162.01 L348.32,162.01 L349.01,162.01 L349.70,162.01 L350.40,162.01 L351.09,162.01 L351.78,162.01 L352.48,162.01 L353.17,162.01 L353.86,162.01 L354.56,162.01 L355.25,162.01 L355.94,162.01 L356.63,162.00 L357.33,162.00 L358.02,162.00 L358.71,162.00 L359.41,162.00 L360.10,162.00 L360.79,162.00 L361.49,162.00 L362.18,162.00 L362.87,162.00 L363.57,162.00 L364.26,162.00 L364.95,162.00 L365.65,162.00 L366.34,162.00 L367.03,162.00 L367.73,162.00 L368.42,162.00 L369.11,162.00 L369.81,162.00 L370.50,162.00 L371.19,162.00 L371.89,162.00 L372.58,162.00 L373.27,162.00 L373.97,162.00 L374.66,162.00 L375.35,162.00 L376.05,162.00 L376.74,162.00 L377.43,162.00 L378.13,162.00 L378.82,162.00 L379.51,162.00 L380.21,162.00 L380.90,162.00" fill="none" stroke="#111" stroke-width="1.2"/>
<path d="M277.80,190.00 L278.49,186.59 L279.18,183.70 L279.88,181.24 L280.57,179.14 L281.26,177.33 L281.95,175.78 L282.64,174.44 L283.34,173.27 L284.03,172.25 L284.72,171.37 L285.41,170.58 L286.10,169.89 L286.80,169.28 L287.49,168.73 L288.18,168.24 L288.87,167.79 L289.56,167.40 L290.26,167.03 L290.95,166.70 L291.64,166.40 L292.33,166.13 L293.02,165.87 L293.71,165.64 L294.41,165.42 L295.10,165.22 L295.79,165.03 L296.48,164.86 L297.17,164.70 L297.87,164.55 L298.56,164.40 L299.25,164.27 L299.94,164.15 L300.63,164.03 L301.33,163.92 L302.02,163.82 L302.71,163.72 L303.40,163.63 L304.09,163.55 L304.79,163.47 L305.48,163.39 L306.17,163.32 L306.86,163.25 L307.55,163.19 L308.25,163.13 L308.94,163.07 L309.63,163.02 L310.32,162.97 L311.01,162.92 L311.71,162.87 L312.40,162.83 L313.09,162.79 L313.78,162.75 L314.47,162.72 L315.17,162.68 L315.86,162.65 L316.55,162.62 L317.24,162.59 L317.93,162.56 L318.62,162.54 L319.32,162.51 L320.01,162.49 L320.70,162.47 L321.39,162.45 L322.08,162.43 L322.78,162.41 L323.47,162.40 L324.16,162.38 L324.85,162.36 L325.54,162.35 L326.24,162.34 L326.93,162.32 L327.62,162.31 L328.31,162.30 L329.00,162.29 L329.70,162.28 L330.39,162.27 L331.08,162.26 L331.77,162.25 L332.46,162.24 L333.16,162.23 L333.85,162.23 L334.54,162.22 L335.23,162.21 L335.92,162.21 L336.62,162.20 L337.31,162.20 L338.00,162.19 L338.69,162.19 L339.38,162.18 L340.08,162.18 L340.77,162.17 L341.46,162.17 L342.15,162.16 L342.84,162.16 L343.53,162.16 L344.23,162.15 L344.92,162.15 L345.61,162.15 L346.30,162.15 L346.99,162.14 L347.69,162.14 L348.38,162.14 L349.07,162.14 L349.76,162.13 L350.45,162.13 L351.15,162.13 L351.84,162.13 L352.53,162.13 L353.22,162.13 L353.91,162.12 L354.61,162.12 L355.30,162.12 L355.99,162.12 L356.68,162.12 L357.37,162.12 L358.07,162.12 L358.76,162.12 L359.45,162.12 L360.14,162.11 L360.83,162.11 L361.53,162.11 L362.22,162.11 L362.91,162.11 L363.60,162.11 L364.29,162.11 L364.99,162.11 L365.68,162.11 L366.37,162.11 L367.06,162.11 L367.75,162.11 L368.44,162.11 L369.14,162.11 L369.83,162.11 L370.52,162.11 L371.21,162.11 L371.90,162.11 L372.60,162.11 L373.29,162.11 L373.98,162.10 L374.67,162.10 L375.36,162.10 L376.06,162.10 L376.75,162.10 L377.44,162.10 L378.13,162.10 L378.82,162.10 L379.52,162.10 L380.21,162.10 L380.90,162.10" fill="none" stroke="#111" stroke-width="1.2"/>
<path d="M278.10,204.00 L278.79,198.90 L279.48,194.57 L280.17,190.87 L280.86,187.72 L281.55,185.01 L282.24,182.68 L282.93,180.67 L283.62,178.91 L284.31,177.39 L285.00,176.05 L285.69,174.87 L286.38,173.83 L287.07,172.91 L287.76,172.08 L288.45,171.35 L289.14,170.68 L289.83,170.08 L290.52,169.54 L291.21,169.04 L291.90,168.59 L292.59,168.17 L293.28,167.79 L293.97,167.43 L294.66,167.11 L295.35,166.81 L296.04,166.52 L296.73,166.26 L297.42,166.02 L298.11,165.79 L298.80,165.58 L299.49,165.38 L300.18,165.19 L300.87,165.02 L301.56,164.85 L302.25,164.70 L302.94,164.55 L303.63,164.41 L304.32,164.29 L305.01,164.16 L305.70,164.05 L306.39,163.94 L307.08,163.84 L307.77,163.74 L308.46,163.65 L309.15,163.57 L309.84,163.49 L310.53,163.41 L311.22,163.34 L311.91,163.27 L312.60,163.21 L313.29,163.14 L313.98,163.09 L314.67,163.03 L315.36,162.98 L316.05,162.93 L316.74,162.89 L317.43,162.84 L318.12,162.80 L318.81,162.76 L319.50,162.73 L320.19,162.69 L320.88,162.66 L321.57,162.63 L322.26,162.60 L322.95,162.57 L323.64,162.55 L324.33,162.52 L325.02,162.50 L325.71,162.48 L326.40,162.46 L327.09,162.44 L327.78,162.42 L328.47,162.40 L329.16,162.39 L329.84,162.37 L330.53,162.36 L331.22,162.34 L331.91,162.33 L332.60,162.32 L333.29,162.30 L333.98,162.29 L334.67,162.28 L335.36,162.27 L336.05,162.26 L336.74,162.25 L337.43,162.25 L338.12,162.24 L338.81,162.23 L339.50,162.22 L340.19,162.22 L340.88,162.21 L341.57,162.20 L342.26,162.20 L342.95,162.19 L343.64,162.19 L344.33,162.18 L345.02,162.18 L345.71,162.17 L346.40,162.17 L347.09,162.17 L347.78,162.16 L348.47,162.16 L349.16,162.16 L349.85,162.15 L350.54,162.15 L351.23,162.15 L351.92,162.14 L352.61,162.14 L353.30,162.14 L353.99,162.14 L354.68,162.14 L355.37,162.13 L356.06,162.13 L356.75,162.13 L357.44,162.13 L358.13,162.13 L358.82,162.13 L359.51,162.12 L360.20,162.12 L360.89,162.12 L361.58,162.12 L362.27,162.12 L362.96,162.12 L363.65,162.12 L364.34,162.12 L365.03,162.12 L365.72,162.11 L366.41,162.11 L367.10,162.11 L367.79,162.11 L368.48,162.11 L369.17,162.11 L369.86,162.11 L370.55,162.11 L371.24,162.11 L371.93,162.11 L372.62,162.11 L373.31,162.11 L374.00,162.11 L374.69,162.11 L375.38,162.11 L376.07,162.11 L376.76,162.11 L377.45,162.11 L378.14,162.11 L378.83,162.10 L379.52,162.10 L380.21,162.10 L380.90,162.10" fill="none" stroke="#111" stroke-width="1.6"/>
<path d="M278.30,207.50 L278.99,201.98 L279.68,197.29 L280.37,193.30 L281.05,189.88 L281.74,186.95 L282.43,184.43 L283.12,182.24 L283.81,180.35 L284.50,178.69 L285.19,177.24 L285.87,175.97 L286.56,174.84 L287.25,173.84 L287.94,172.94 L288.63,172.14 L289.32,171.42 L290.01,170.77 L290.69,170.18 L291.38,169.64 L292.07,169.15 L292.76,168.69 L293.45,168.28 L294.14,167.90 L294.83,167.54 L295.51,167.21 L296.20,166.91 L296.89,166.63 L297.58,166.36 L298.27,166.11 L298.96,165.88 L299.65,165.67 L300.33,165.46 L301.02,165.27 L301.71,165.09 L302.40,164.93 L303.09,164.77 L303.78,164.62 L304.47,164.48 L305.16,164.35 L305.84,164.22 L306.53,164.10 L307.22,163.99 L307.91,163.89 L308.60,163.79 L309.29,163.70 L309.98,163.61 L310.66,163.53 L311.35,163.45 L312.04,163.37 L312.73,163.30 L313.42,163.24 L314.11,163.18 L314.80,163.12 L315.48,163.06 L316.17,163.01 L316.86,162.96 L317.55,162.91 L318.24,162.87 L318.93,162.83 L319.62,162.79 L320.30,162.75 L320.99,162.71 L321.68,162.68 L322.37,162.65 L323.06,162.62 L323.75,162.59 L324.44,162.56 L325.12,162.54 L325.81,162.51 L326.50,162.49 L327.19,162.47 L327.88,162.45 L328.57,162.43 L329.26,162.41 L329.94,162.39 L330.63,162.38 L331.32,162.36 L332.01,162.35 L332.70,162.34 L333.39,162.32 L334.08,162.31 L334.76,162.30 L335.45,162.29 L336.14,162.28 L336.83,162.27 L337.52,162.26 L338.21,162.25 L338.90,162.24 L339.58,162.23 L340.27,162.23 L340.96,162.22 L341.65,162.21 L342.34,162.21 L343.03,162.20 L343.72,162.20 L344.40,162.19 L345.09,162.19 L345.78,162.18 L346.47,162.18 L347.16,162.17 L347.85,162.17 L348.54,162.16 L349.22,162.16 L349.91,162.16 L350.60,162.15 L351.29,162.15 L351.98,162.15 L352.67,162.15 L353.36,162.14 L354.04,162.14 L354.73,162.14 L355.42,162.14 L356.11,162.13 L356.80,162.13 L357.49,162.13 L358.18,162.13 L358.87,162.13 L359.55,162.13 L360.24,162.12 L360.93,162.12 L361.62,162.12 L362.31,162.12 L363.00,162.12 L363.69,162.12 L364.37,162.12 L365.06,162.12 L365.75,162.12 L366.44,162.11 L367.13,162.11 L367.82,162.11 L368.51,162.11 L369.19,162.11 L369.88,162.11 L370.57,162.11 L371.26,162.11 L371.95,162.11 L372.64,162.11 L373.33,162.11 L374.01,162.11 L374.70,162.11 L375.39,162.11 L376.08,162.11 L376.77,162.11 L377.46,162.11 L378.15,162.11 L378.83,162.11 L379.52,162.11 L380.21,162.10 L380.90,162.10" fill="none" stroke="#111" stroke-width="1.6"/>
<path d="M278.50,210.50 L279.19,204.63 L279.87,199.64 L280.56,195.38 L281.25,191.75 L281.94,188.62 L282.62,185.93 L283.31,183.60 L284.00,181.58 L284.69,179.82 L285.37,178.27 L286.06,176.91 L286.75,175.71 L287.43,174.64 L288.12,173.68 L288.81,172.83 L289.50,172.06 L290.18,171.36 L290.87,170.73 L291.56,170.16 L292.24,169.63 L292.93,169.15 L293.62,168.71 L294.31,168.30 L294.99,167.92 L295.68,167.57 L296.37,167.24 L297.06,166.94 L297.74,166.66 L298.43,166.39 L299.12,166.15 L299.80,165.91 L300.49,165.70 L301.18,165.49 L301.87,165.30 L302.55,165.12 L303.24,164.95 L303.93,164.80 L304.62,164.65 L305.30,164.50 L305.99,164.37 L306.68,164.25 L307.36,164.13 L308.05,164.02 L308.74,163.91 L309.43,163.81 L310.11,163.72 L310.80,163.63 L311.49,163.54 L312.18,163.47 L312.86,163.39 L313.55,163.32 L314.24,163.25 L314.92,163.19 L315.61,163.13 L316.30,163.07 L316.99,163.02 L317.67,162.97 L318.36,162.92 L319.05,162.88 L319.73,162.84 L320.42,162.80 L321.11,162.76 L321.80,162.72 L322.48,162.69 L323.17,162.66 L323.86,162.63 L324.55,162.60 L325.23,162.57 L325.92,162.54 L326.61,162.52 L327.29,162.50 L327.98,162.48 L328.67,162.45 L329.36,162.44 L330.04,162.42 L330.73,162.40 L331.42,162.38 L332.11,162.37 L332.79,162.35 L333.48,162.34 L334.17,162.33 L334.85,162.31 L335.54,162.30 L336.23,162.29 L336.92,162.28 L337.60,162.27 L338.29,162.26 L338.98,162.25 L339.67,162.24 L340.35,162.24 L341.04,162.23 L341.73,162.22 L342.41,162.22 L343.10,162.21 L343.79,162.20 L344.48,162.20 L345.16,162.19 L345.85,162.19 L346.54,162.18 L347.22,162.18 L347.91,162.17 L348.60,162.17 L349.29,162.17 L349.97,162.16 L350.66,162.16 L351.35,162.16 L352.04,162.15 L352.72,162.15 L353.41,162.15 L354.10,162.14 L354.78,162.14 L355.47,162.14 L356.16,162.14 L356.85,162.14 L357.53,162.13 L358.22,162.13 L358.91,162.13 L359.60,162.13 L360.28,162.13 L360.97,162.13 L361.66,162.12 L362.34,162.12 L363.03,162.12 L363.72,162.12 L364.41,162.12 L365.09,162.12 L365.78,162.12 L366.47,162.12 L367.16,162.12 L367.84,162.11 L368.53,162.11 L369.22,162.11 L369.90,162.11 L370.59,162.11 L371.28,162.11 L371.97,162.11 L372.65,162.11 L373.34,162.11 L374.03,162.11 L374.71,162.11 L375.40,162.11 L376.09,162.11 L376.78,162.11 L377.46,162.11 L378.15,162.11 L378.84,162.11 L379.53,162.11 L380.21,162.11 L380.90,162.10" fill="none" stroke="#111" stroke-width="1.6"/>
<text x="122" y="191.4" font-size="24">control</text>
<path d="M311.7,184.9 L311.7,226.4 L371.8,226.4" fill="none" stroke="#111" stroke-width="2.1"/>
<text x="318.8" y="207.2" font-size="24">1 μA</text>
<text x="324.9" y="250.4" font-size="24">1 s</text>
<path d="M43.00,280.50 L44.17,275.76 L45.34,271.54 L46.52,267.82 L47.69,264.52 L48.86,261.61 L50.03,259.03 L51.21,256.75 L52.38,254.74 L53.55,252.95 L54.72,251.37 L55.90,249.96 L57.07,248.72 L58.24,247.61 L59.41,246.62 L60.59,245.75 L61.76,244.97 L62.93,244.27 L64.10,243.64 L65.27,243.08 L66.45,242.58 L67.62,242.13 L68.79,241.72 L69.96,241.35 L71.14,241.02 L72.31,240.72 L73.48,240.44 L74.65,240.19 L75.83,239.96 L77.00,239.75 L78.17,239.55 L79.34,239.37 L80.52,239.20 L81.69,239.05 L82.86,238.90 L84.03,238.77 L85.21,238.64 L86.38,238.52 L87.55,238.41 L88.72,238.30 L89.89,238.20 L91.07,238.10 L92.24,238.01 L93.41,237.92 L94.58,237.83 L95.76,237.75 L96.93,237.67 L98.10,237.59 L99.27,237.52 L100.45,237.44 L101.62,237.37 L102.79,237.30 L103.96,237.24 L105.14,237.17 L106.31,237.11 L107.48,237.05 L108.65,236.99 L109.82,236.93 L111.00,236.87 L112.17,236.81 L113.34,236.76 L114.51,236.70 L115.69,236.65 L116.86,236.59 L118.03,236.54 L119.20,236.49 L120.38,236.44 L121.55,236.39 L122.72,236.34 L123.89,236.30 L125.07,236.25 L126.24,236.20 L127.41,236.16 L128.58,236.11 L129.75,236.07 L130.93,236.02 L132.10,235.98 L133.27,235.94 L134.44,235.90 L135.62,235.86 L136.79,235.82 L137.96,235.78 L139.13,235.74 L140.31,235.70 L141.48,235.66 L142.65,235.62 L143.82,235.58 L145.00,235.55 L146.17,235.51 L147.34,235.48 L148.51,235.44 L149.68,235.41 L150.86,235.37 L152.03,235.34 L153.20,235.31 L154.37,235.28 L155.55,235.24 L156.72,235.21 L157.89,235.18 L159.06,235.15 L160.24,235.12 L161.41,235.09 L162.58,235.06 L163.75,235.03 L164.93,235.00 L166.10,234.97 L167.27,234.95 L168.44,234.92 L169.62,234.89 L170.79,234.87 L171.96,234.84 L173.13,234.81 L174.30,234.79 L175.48,234.76 L176.65,234.74 L177.82,234.71 L178.99,234.69 L180.17,234.67 L181.34,234.64 L182.51,234.62 L183.68,234.60 L184.86,234.58 L186.03,234.55 L187.20,234.53 L188.37,234.51 L189.55,234.49 L190.72,234.47 L191.89,234.45 L193.06,234.43 L194.23,234.41 L195.41,234.39 L196.58,234.37 L197.75,234.35 L198.92,234.33 L200.10,234.31 L201.27,234.29 L202.44,234.28 L203.61,234.26 L204.79,234.24 L205.96,234.22 L207.13,234.21 L208.30,234.19 L209.48,234.17 L210.65,234.16 L211.82,234.14 L212.99,234.12 L214.16,234.11 L215.34,234.09 L216.51,234.08 L217.68,234.06 L218.85,234.05 L220.03,234.03 L221.20,234.02 L222.37,234.01 L223.54,233.99 L224.72,233.98 L225.89,233.96 L227.06,233.95 L228.23,233.94 L229.41,233.93 L230.58,233.91 L231.75,233.90 L232.92,233.89 L234.09,233.87 L235.27,233.86 L236.44,233.85 L237.61,233.84 L238.78,233.83 L239.96,233.82 L241.13,233.80 L242.30,233.79 L243.47,233.78 L244.65,233.77 L245.82,233.76 L246.99,233.75 L248.16,233.74 L249.34,233.73 L250.51,233.72 L251.68,233.71 L252.85,233.70 L254.03,233.69 L255.20,233.68 L256.37,233.67 L257.54,233.66 L258.71,233.65 L259.89,233.65 L261.06,233.64 L262.23,233.63 L263.40,233.62 L264.58,233.61 L265.75,233.60 L266.92,233.59 L268.09,233.59 L269.27,233.58 L270.44,233.57 L271.61,233.56 L272.78,233.55 L273.96,233.55 L275.13,233.54 L276.30,233.53" fill="none" stroke="#111" stroke-width="1.8"/>
<path d="M43.00,285.40 L44.17,284.00 L45.34,281.67 L46.52,278.79 L47.69,275.69 L48.86,272.59 L50.03,269.62 L51.21,266.87 L52.38,264.35 L53.55,262.09 L54.72,260.07 L55.90,258.27 L57.07,256.69 L58.24,255.28 L59.41,254.04 L60.59,252.95 L61.76,251.97 L62.93,251.11 L64.10,250.33 L65.27,249.64 L66.45,249.01 L67.62,248.45 L68.79,247.93 L69.96,247.47 L71.14,247.04 L72.31,246.64 L73.48,246.28 L74.65,245.94 L75.83,245.63 L77.00,245.33 L78.17,245.06 L79.34,244.80 L80.52,244.56 L81.69,244.34 L82.86,244.12 L84.03,243.92 L85.21,243.73 L86.38,243.55 L87.55,243.37 L88.72,243.21 L89.89,243.05 L91.07,242.90 L92.24,242.76 L93.41,242.63 L94.58,242.50 L95.76,242.38 L96.93,242.26 L98.10,242.15 L99.27,242.05 L100.45,241.94 L101.62,241.85 L102.79,241.75 L103.96,241.67 L105.14,241.58 L106.31,241.50 L107.48,241.42 L108.65,241.35 L109.82,241.28 L111.00,241.21 L112.17,241.15 L113.34,241.09 L114.51,241.03 L115.69,240.97 L116.86,240.92 L118.03,240.87 L119.20,240.82 L120.38,240.77 L121.55,240.73 L122.72,240.68 L123.89,240.64 L125.07,240.60 L126.24,240.57 L127.41,240.53 L128.58,240.49 L129.75,240.46 L130.93,240.43 L132.10,240.40 L133.27,240.37 L134.44,240.34 L135.62,240.32 L136.79,240.29 L137.96,240.27 L139.13,240.25 L140.31,240.22 L141.48,240.20 L142.65,240.18 L143.82,240.16 L145.00,240.15 L146.17,240.13 L147.34,240.11 L148.51,240.10 L149.68,240.08 L150.86,240.07 L152.03,240.05 L153.20,240.04 L154.37,240.02 L155.55,240.01 L156.72,240.00 L157.89,239.99 L159.06,239.98 L160.24,239.97 L161.41,239.96 L162.58,239.95 L163.75,239.94 L164.93,239.93 L166.10,239.92 L167.27,239.92 L168.44,239.91 L169.62,239.90 L170.79,239.89 L171.96,239.89 L173.13,239.88 L174.30,239.88 L175.48,239.87 L176.65,239.86 L177.82,239.86 L178.99,239.85 L180.17,239.85 L181.34,239.84 L182.51,239.84 L183.68,239.84 L184.86,239.83 L186.03,239.83 L187.20,239.82 L188.37,239.82 L189.55,239.82 L190.72,239.81 L191.89,239.81 L193.06,239.81 L194.23,239.81 L195.41,239.80 L196.58,239.80 L197.75,239.80 L198.92,239.80 L200.10,239.79 L201.27,239.79 L202.44,239.79 L203.61,239.79 L204.79,239.78 L205.96,239.78 L207.13,239.78 L208.30,239.78 L209.48,239.78 L210.65,239.78 L211.82,239.78 L212.99,239.77 L214.16,239.77 L215.34,239.77 L216.51,239.77 L217.68,239.77 L218.85,239.77 L220.03,239.77 L221.20,239.77 L222.37,239.76 L223.54,239.76 L224.72,239.76 L225.89,239.76 L227.06,239.76 L228.23,239.76 L229.41,239.76 L230.58,239.76 L231.75,239.76 L232.92,239.76 L234.09,239.76 L235.27,239.76 L236.44,239.76 L237.61,239.76 L238.78,239.75 L239.96,239.75 L241.13,239.75 L242.30,239.75 L243.47,239.75 L244.65,239.75 L245.82,239.75 L246.99,239.75 L248.16,239.75 L249.34,239.75 L250.51,239.75 L251.68,239.75 L252.85,239.75 L254.03,239.75 L255.20,239.75 L256.37,239.75 L257.54,239.75 L258.71,239.75 L259.89,239.75 L261.06,239.75 L262.23,239.75 L263.40,239.75 L264.58,239.75 L265.75,239.75 L266.92,239.75 L268.09,239.75 L269.27,239.75 L270.44,239.75 L271.61,239.75 L272.78,239.75 L273.96,239.75 L275.13,239.75 L276.30,239.75" fill="none" stroke="#111" stroke-width="1.8"/>
<path d="M43.00,291.60 L44.17,291.46 L45.34,291.21 L46.52,290.80 L47.69,290.25 L48.86,289.57 L50.03,288.77 L51.21,287.88 L52.38,286.91 L53.55,285.88 L54.72,284.81 L55.90,283.72 L57.07,282.61 L58.24,281.50 L59.41,280.40 L60.59,279.31 L61.76,278.25 L62.93,277.21 L64.10,276.21 L65.27,275.24 L66.45,274.31 L67.62,273.41 L68.79,272.56 L69.96,271.74 L71.14,270.97 L72.31,270.23 L73.48,269.53 L74.65,268.87 L75.83,268.24 L77.00,267.65 L78.17,267.09 L79.34,266.57 L80.52,266.07 L81.69,265.61 L82.86,265.17 L84.03,264.76 L85.21,264.37 L86.38,264.00 L87.55,263.66 L88.72,263.34 L89.89,263.04 L91.07,262.76 L92.24,262.49 L93.41,262.25 L94.58,262.01 L95.76,261.79 L96.93,261.59 L98.10,261.40 L99.27,261.21 L100.45,261.04 L101.62,260.89 L102.79,260.74 L103.96,260.59 L105.14,260.46 L106.31,260.34 L107.48,260.22 L108.65,260.11 L109.82,260.01 L111.00,259.91 L112.17,259.81 L113.34,259.73 L114.51,259.65 L115.69,259.57 L116.86,259.49 L118.03,259.43 L119.20,259.36 L120.38,259.30 L121.55,259.24 L122.72,259.18 L123.89,259.13 L125.07,259.08 L126.24,259.03 L127.41,258.99 L128.58,258.94 L129.75,258.90 L130.93,258.86 L132.10,258.83 L133.27,258.79 L134.44,258.76 L135.62,258.72 L136.79,258.69 L137.96,258.66 L139.13,258.63 L140.31,258.61 L141.48,258.58 L142.65,258.56 L143.82,258.53 L145.00,258.51 L146.17,258.49 L147.34,258.46 L148.51,258.44 L149.68,258.42 L150.86,258.41 L152.03,258.39 L153.20,258.37 L154.37,258.35 L155.55,258.34 L156.72,258.32 L157.89,258.30 L159.06,258.29 L160.24,258.27 L161.41,258.26 L162.58,258.25 L163.75,258.23 L164.93,258.22 L166.10,258.21 L167.27,258.20 L168.44,258.18 L169.62,258.17 L170.79,258.16 L171.96,258.15 L173.13,258.14 L174.30,258.13 L175.48,258.12 L176.65,258.11 L177.82,258.10 L178.99,258.09 L180.17,258.08 L181.34,258.07 L182.51,258.07 L183.68,258.06 L184.86,258.05 L186.03,258.04 L187.20,258.03 L188.37,258.03 L189.55,258.02 L190.72,258.01 L191.89,258.01 L193.06,258.00 L194.23,257.99 L195.41,257.99 L196.58,257.98 L197.75,257.97 L198.92,257.97 L200.10,257.96 L201.27,257.96 L202.44,257.95 L203.61,257.94 L204.79,257.94 L205.96,257.93 L207.13,257.93 L208.30,257.92 L209.48,257.92 L210.65,257.91 L211.82,257.91 L212.99,257.91 L214.16,257.90 L215.34,257.90 L216.51,257.89 L217.68,257.89 L218.85,257.88 L220.03,257.88 L221.20,257.88 L222.37,257.87 L223.54,257.87 L224.72,257.86 L225.89,257.86 L227.06,257.86 L228.23,257.85 L229.41,257.85 L230.58,257.85 L231.75,257.84 L232.92,257.84 L234.09,257.84 L235.27,257.84 L236.44,257.83 L237.61,257.83 L238.78,257.83 L239.96,257.82 L241.13,257.82 L242.30,257.82 L243.47,257.82 L244.65,257.81 L245.82,257.81 L246.99,257.81 L248.16,257.81 L249.34,257.80 L250.51,257.80 L251.68,257.80 L252.85,257.80 L254.03,257.80 L255.20,257.79 L256.37,257.79 L257.54,257.79 L258.71,257.79 L259.89,257.79 L261.06,257.78 L262.23,257.78 L263.40,257.78 L264.58,257.78 L265.75,257.78 L266.92,257.78 L268.09,257.77 L269.27,257.77 L270.44,257.77 L271.61,257.77 L272.78,257.77 L273.96,257.77 L275.13,257.76 L276.30,257.76" fill="none" stroke="#111" stroke-width="1.8"/>
<path d="M43.00,296.50 L44.17,296.49 L45.34,296.49 L46.52,296.48 L47.69,296.47 L48.86,296.47 L50.03,296.46 L51.21,296.45 L52.38,296.45 L53.55,296.44 L54.72,296.43 L55.90,296.43 L57.07,296.42 L58.24,296.41 L59.41,296.41 L60.59,296.40 L61.76,296.40 L62.93,296.39 L64.10,296.38 L65.27,296.38 L66.45,296.37 L67.62,296.36 L68.79,296.36 L69.96,296.35 L71.14,296.34 L72.31,296.34 L73.48,296.33 L74.65,296.32 L75.83,296.32 L77.00,296.31 L78.17,296.30 L79.34,296.30 L80.52,296.29 L81.69,296.28 L82.86,296.28 L84.03,296.27 L85.21,296.26 L86.38,296.26 L87.55,296.25 L88.72,296.24 L89.89,296.24 L91.07,296.23 L92.24,296.23 L93.41,296.22 L94.58,296.21 L95.76,296.21 L96.93,296.20 L98.10,296.19 L99.27,296.19 L100.45,296.18 L101.62,296.17 L102.79,296.17 L103.96,296.16 L105.14,296.15 L106.31,296.15 L107.48,296.14 L108.65,296.13 L109.82,296.13 L111.00,296.12 L112.17,296.11 L113.34,296.11 L114.51,296.10 L115.69,296.09 L116.86,296.09 L118.03,296.08 L119.20,296.07 L120.38,296.07 L121.55,296.06 L122.72,296.06 L123.89,296.05 L125.07,296.04 L126.24,296.04 L127.41,296.03 L128.58,296.02 L129.75,296.02 L130.93,296.01 L132.10,296.00 L133.27,296.00 L134.44,295.99 L135.62,295.98 L136.79,295.98 L137.96,295.97 L139.13,295.96 L140.31,295.96 L141.48,295.95 L142.65,295.94 L143.82,295.94 L145.00,295.93 L146.17,295.92 L147.34,295.92 L148.51,295.91 L149.68,295.90 L150.86,295.90 L152.03,295.89 L153.20,295.89 L154.37,295.88 L155.55,295.87 L156.72,295.87 L157.89,295.86 L159.06,295.85 L160.24,295.85 L161.41,295.84 L162.58,295.83 L163.75,295.83 L164.93,295.82 L166.10,295.81 L167.27,295.81 L168.44,295.80 L169.62,295.79 L170.79,295.79 L171.96,295.78 L173.13,295.77 L174.30,295.77 L175.48,295.76 L176.65,295.75 L177.82,295.75 L178.99,295.74 L180.17,295.73 L181.34,295.73 L182.51,295.72 L183.68,295.72 L184.86,295.71 L186.03,295.70 L187.20,295.70 L188.37,295.69 L189.55,295.68 L190.72,295.68 L191.89,295.67 L193.06,295.66 L194.23,295.66 L195.41,295.65 L196.58,295.64 L197.75,295.64 L198.92,295.63 L200.10,295.62 L201.27,295.62 L202.44,295.61 L203.61,295.60 L204.79,295.60 L205.96,295.59 L207.13,295.58 L208.30,295.58 L209.48,295.57 L210.65,295.56 L211.82,295.56 L212.99,295.55 L214.16,295.55 L215.34,295.54 L216.51,295.53 L217.68,295.53 L218.85,295.52 L220.03,295.51 L221.20,295.51 L222.37,295.50 L223.54,295.49 L224.72,295.49 L225.89,295.48 L227.06,295.47 L228.23,295.47 L229.41,295.46 L230.58,295.45 L231.75,295.45 L232.92,295.44 L234.09,295.43 L235.27,295.43 L236.44,295.42 L237.61,295.41 L238.78,295.41 L239.96,295.40 L241.13,295.39 L242.30,295.39 L243.47,295.38 L244.65,295.37 L245.82,295.37 L246.99,295.36 L248.16,295.36 L249.34,295.35 L250.51,295.34 L251.68,295.34 L252.85,295.33 L254.03,295.32 L255.20,295.32 L256.37,295.31 L257.54,295.30 L258.71,295.30 L259.89,295.29 L261.06,295.28 L262.23,295.28 L263.40,295.27 L264.58,295.26 L265.75,295.26 L266.92,295.25 L268.09,295.24 L269.27,295.24 L270.44,295.23 L271.61,295.22 L272.78,295.22 L273.96,295.21 L275.13,295.20 L276.30,295.20" fill="none" stroke="#111" stroke-width="1.8"/>
<path d="M43.00,305.80 L44.17,305.81 L45.34,305.82 L46.52,305.82 L47.69,305.83 L48.86,305.84 L50.03,305.85 L51.21,305.86 L52.38,305.86 L53.55,305.87 L54.72,305.88 L55.90,305.89 L57.07,305.90 L58.24,305.90 L59.41,305.91 L60.59,305.92 L61.76,305.93 L62.93,305.94 L64.10,305.94 L65.27,305.95 L66.45,305.96 L67.62,305.97 L68.79,305.98 L69.96,305.99 L71.14,305.99 L72.31,306.00 L73.48,306.01 L74.65,306.02 L75.83,306.03 L77.00,306.03 L78.17,306.04 L79.34,306.05 L80.52,306.06 L81.69,306.07 L82.86,306.07 L84.03,306.08 L85.21,306.09 L86.38,306.10 L87.55,306.11 L88.72,306.11 L89.89,306.12 L91.07,306.13 L92.24,306.14 L93.41,306.15 L94.58,306.15 L95.76,306.16 L96.93,306.17 L98.10,306.18 L99.27,306.19 L100.45,306.19 L101.62,306.20 L102.79,306.21 L103.96,306.22 L105.14,306.23 L106.31,306.23 L107.48,306.24 L108.65,306.25 L109.82,306.26 L111.00,306.27 L112.17,306.27 L113.34,306.28 L114.51,306.29 L115.69,306.30 L116.86,306.31 L118.03,306.32 L119.20,306.32 L120.38,306.33 L121.55,306.34 L122.72,306.35 L123.89,306.36 L125.07,306.36 L126.24,306.37 L127.41,306.38 L128.58,306.39 L129.75,306.40 L130.93,306.40 L132.10,306.41 L133.27,306.42 L134.44,306.43 L135.62,306.44 L136.79,306.44 L137.96,306.45 L139.13,306.46 L140.31,306.47 L141.48,306.48 L142.65,306.48 L143.82,306.49 L145.00,306.50 L146.17,306.51 L147.34,306.52 L148.51,306.52 L149.68,306.53 L150.86,306.54 L152.03,306.55 L153.20,306.56 L154.37,306.56 L155.55,306.57 L156.72,306.58 L157.89,306.59 L159.06,306.60 L160.24,306.61 L161.41,306.61 L162.58,306.62 L163.75,306.63 L164.93,306.64 L166.10,306.65 L167.27,306.65 L168.44,306.66 L169.62,306.67 L170.79,306.68 L171.96,306.69 L173.13,306.69 L174.30,306.70 L175.48,306.71 L176.65,306.72 L177.82,306.73 L178.99,306.73 L180.17,306.74 L181.34,306.75 L182.51,306.76 L183.68,306.77 L184.86,306.77 L186.03,306.78 L187.20,306.79 L188.37,306.80 L189.55,306.81 L190.72,306.81 L191.89,306.82 L193.06,306.83 L194.23,306.84 L195.41,306.85 L196.58,306.85 L197.75,306.86 L198.92,306.87 L200.10,306.88 L201.27,306.89 L202.44,306.89 L203.61,306.90 L204.79,306.91 L205.96,306.92 L207.13,306.93 L208.30,306.94 L209.48,306.94 L210.65,306.95 L211.82,306.96 L212.99,306.97 L214.16,306.98 L215.34,306.98 L216.51,306.99 L217.68,307.00 L218.85,307.01 L220.03,307.02 L221.20,307.02 L222.37,307.03 L223.54,307.04 L224.72,307.05 L225.89,307.06 L227.06,307.06 L228.23,307.07 L229.41,307.08 L230.58,307.09 L231.75,307.10 L232.92,307.10 L234.09,307.11 L235.27,307.12 L236.44,307.13 L237.61,307.14 L238.78,307.14 L239.96,307.15 L241.13,307.16 L242.30,307.17 L243.47,307.18 L244.65,307.18 L245.82,307.19 L246.99,307.20 L248.16,307.21 L249.34,307.22 L250.51,307.22 L251.68,307.23 L252.85,307.24 L254.03,307.25 L255.20,307.26 L256.37,307.27 L257.54,307.27 L258.71,307.28 L259.89,307.29 L261.06,307.30 L262.23,307.31 L263.40,307.31 L264.58,307.32 L265.75,307.33 L266.92,307.34 L268.09,307.35 L269.27,307.35 L270.44,307.36 L271.61,307.37 L272.78,307.38 L273.96,307.39 L275.13,307.39 L276.30,307.40" fill="none" stroke="#111" stroke-width="1.8"/>
<path d="M43.00,310.10 L44.17,310.10 L45.34,310.10 L46.52,310.10 L47.69,310.09 L48.86,310.09 L50.03,310.09 L51.21,310.09 L52.38,310.09 L53.55,310.09 L54.72,310.08 L55.90,310.08 L57.07,310.08 L58.24,310.08 L59.41,310.08 L60.59,310.08 L61.76,310.08 L62.93,310.07 L64.10,310.07 L65.27,310.07 L66.45,310.07 L67.62,310.07 L68.79,310.07 L69.96,310.07 L71.14,310.06 L72.31,310.06 L73.48,310.06 L74.65,310.06 L75.83,310.06 L77.00,310.06 L78.17,310.05 L79.34,310.05 L80.52,310.05 L81.69,310.05 L82.86,310.05 L84.03,310.05 L85.21,310.05 L86.38,310.04 L87.55,310.04 L88.72,310.04 L89.89,310.04 L91.07,310.04 L92.24,310.04 L93.41,310.04 L94.58,310.03 L95.76,310.03 L96.93,310.03 L98.10,310.03 L99.27,310.03 L100.45,310.03 L101.62,310.02 L102.79,310.02 L103.96,310.02 L105.14,310.02 L106.31,310.02 L107.48,310.02 L108.65,310.02 L109.82,310.01 L111.00,310.01 L112.17,310.01 L113.34,310.01 L114.51,310.01 L115.69,310.01 L116.86,310.00 L118.03,310.00 L119.20,310.00 L120.38,310.00 L121.55,310.00 L122.72,310.00 L123.89,310.00 L125.07,309.99 L126.24,309.99 L127.41,309.99 L128.58,309.99 L129.75,309.99 L130.93,309.99 L132.10,309.99 L133.27,309.98 L134.44,309.98 L135.62,309.98 L136.79,309.98 L137.96,309.98 L139.13,309.98 L140.31,309.97 L141.48,309.97 L142.65,309.97 L143.82,309.97 L145.00,309.97 L146.17,309.97 L147.34,309.97 L148.51,309.96 L149.68,309.96 L150.86,309.96 L152.03,309.96 L153.20,309.96 L154.37,309.96 L155.55,309.96 L156.72,309.95 L157.89,309.95 L159.06,309.95 L160.24,309.95 L161.41,309.95 L162.58,309.95 L163.75,309.94 L164.93,309.94 L166.10,309.94 L167.27,309.94 L168.44,309.94 L169.62,309.94 L170.79,309.94 L171.96,309.93 L173.13,309.93 L174.30,309.93 L175.48,309.93 L176.65,309.93 L177.82,309.93 L178.99,309.92 L180.17,309.92 L181.34,309.92 L182.51,309.92 L183.68,309.92 L184.86,309.92 L186.03,309.92 L187.20,309.91 L188.37,309.91 L189.55,309.91 L190.72,309.91 L191.89,309.91 L193.06,309.91 L194.23,309.91 L195.41,309.90 L196.58,309.90 L197.75,309.90 L198.92,309.90 L200.10,309.90 L201.27,309.90 L202.44,309.89 L203.61,309.89 L204.79,309.89 L205.96,309.89 L207.13,309.89 L208.30,309.89 L209.48,309.89 L210.65,309.88 L211.82,309.88 L212.99,309.88 L214.16,309.88 L215.34,309.88 L216.51,309.88 L217.68,309.88 L218.85,309.87 L220.03,309.87 L221.20,309.87 L222.37,309.87 L223.54,309.87 L224.72,309.87 L225.89,309.86 L227.06,309.86 L228.23,309.86 L229.41,309.86 L230.58,309.86 L231.75,309.86 L232.92,309.86 L234.09,309.85 L235.27,309.85 L236.44,309.85 L237.61,309.85 L238.78,309.85 L239.96,309.85 L241.13,309.84 L242.30,309.84 L243.47,309.84 L244.65,309.84 L245.82,309.84 L246.99,309.84 L248.16,309.84 L249.34,309.83 L250.51,309.83 L251.68,309.83 L252.85,309.83 L254.03,309.83 L255.20,309.83 L256.37,309.83 L257.54,309.82 L258.71,309.82 L259.89,309.82 L261.06,309.82 L262.23,309.82 L263.40,309.82 L264.58,309.81 L265.75,309.81 L266.92,309.81 L268.09,309.81 L269.27,309.81 L270.44,309.81 L271.61,309.81 L272.78,309.80 L273.96,309.80 L275.13,309.80 L276.30,309.80" fill="none" stroke="#111" stroke-width="1.8"/>
<path d="M43.00,300.40 L44.17,300.59 L45.34,300.88 L46.52,301.23 L47.69,301.62 L48.86,302.04 L50.03,302.48 L51.21,302.94 L52.38,303.41 L53.55,303.89 L54.72,304.37 L55.90,304.86 L57.07,305.35 L58.24,305.84 L59.41,306.33 L60.59,306.83 L61.76,307.31 L62.93,307.80 L64.10,308.28 L65.27,308.76 L66.45,309.24 L67.62,309.70 L68.79,310.17 L69.96,310.63 L71.14,311.08 L72.31,311.52 L73.48,311.96 L74.65,312.39 L75.83,312.82 L77.00,313.24 L78.17,313.65 L79.34,314.05 L80.52,314.45 L81.69,314.84 L82.86,315.22 L84.03,315.60 L85.21,315.97 L86.38,316.33 L87.55,316.68 L88.72,317.03 L89.89,317.37 L91.07,317.70 L92.24,318.03 L93.41,318.35 L94.58,318.67 L95.76,318.97 L96.93,319.27 L98.10,319.57 L99.27,319.85 L100.45,320.14 L101.62,320.41 L102.79,320.68 L103.96,320.94 L105.14,321.20 L106.31,321.45 L107.48,321.70 L108.65,321.94 L109.82,322.18 L111.00,322.41 L112.17,322.63 L113.34,322.85 L114.51,323.07 L115.69,323.28 L116.86,323.48 L118.03,323.68 L119.20,323.87 L120.38,324.07 L121.55,324.25 L122.72,324.43 L123.89,324.61 L125.07,324.78 L126.24,324.95 L127.41,325.12 L128.58,325.28 L129.75,325.44 L130.93,325.59 L132.10,325.74 L133.27,325.89 L134.44,326.03 L135.62,326.17 L136.79,326.30 L137.96,326.44 L139.13,326.57 L140.31,326.69 L141.48,326.82 L142.65,326.94 L143.82,327.05 L145.00,327.17 L146.17,327.28 L147.34,327.39 L148.51,327.49 L149.68,327.60 L150.86,327.70 L152.03,327.80 L153.20,327.89 L154.37,327.99 L155.55,328.08 L156.72,328.17 L157.89,328.25 L159.06,328.34 L160.24,328.42 L161.41,328.50 L162.58,328.58 L163.75,328.66 L164.93,328.73 L166.10,328.80 L167.27,328.88 L168.44,328.94 L169.62,329.01 L170.79,329.08 L171.96,329.14 L173.13,329.20 L174.30,329.26 L175.48,329.32 L176.65,329.38 L177.82,329.44 L178.99,329.49 L180.17,329.55 L181.34,329.60 L182.51,329.65 L183.68,329.70 L184.86,329.75 L186.03,329.80 L187.20,329.84 L188.37,329.89 L189.55,329.93 L190.72,329.97 L191.89,330.01 L193.06,330.06 L194.23,330.09 L195.41,330.13 L196.58,330.17 L197.75,330.21 L198.92,330.24 L200.10,330.28 L201.27,330.31 L202.44,330.34 L203.61,330.38 L204.79,330.41 L205.96,330.44 L207.13,330.47 L208.30,330.50 L209.48,330.52 L210.65,330.55 L211.82,330.58 L212.99,330.61 L214.16,330.63 L215.34,330.66 L216.51,330.68 L217.68,330.70 L218.85,330.73 L220.03,330.75 L221.20,330.77 L222.37,330.79 L223.54,330.81 L224.72,330.83 L225.89,330.85 L227.06,330.87 L228.23,330.89 L229.41,330.91 L230.58,330.93 L231.75,330.94 L232.92,330.96 L234.09,330.98 L235.27,330.99 L236.44,331.01 L237.61,331.02 L238.78,331.04 L239.96,331.05 L241.13,331.07 L242.30,331.08 L243.47,331.09 L244.65,331.11 L245.82,331.12 L246.99,331.13 L248.16,331.14 L249.34,331.16 L250.51,331.17 L251.68,331.18 L252.85,331.19 L254.03,331.20 L255.20,331.21 L256.37,331.22 L257.54,331.23 L258.71,331.24 L259.89,331.25 L261.06,331.26 L262.23,331.27 L263.40,331.27 L264.58,331.28 L265.75,331.29 L266.92,331.30 L268.09,331.31 L269.27,331.31 L270.44,331.32 L271.61,331.33 L272.78,331.34 L273.96,331.34 L275.13,331.35 L276.30,331.36" fill="none" stroke="#111" stroke-width="1.8"/>
<line x1="41.7" y1="231.8" x2="41.7" y2="314" stroke="#4a4a4a" stroke-width="2.9"/>
<line x1="42.3" y1="305" x2="42.3" y2="320.6" stroke="#222" stroke-width="1.3"/>
<line x1="15.2" y1="297.3" x2="28" y2="297.3" stroke="#000" stroke-width="1.9"/>
<path d="M25.6,294.8 L33.8,297.3 L25.6,299.8 L26.6,297.3 Z" fill="#000"/>
<line x1="35.3" y1="313.3" x2="41" y2="313.3" stroke="#000" stroke-width="1.9"/>
<line x1="276.3" y1="233" x2="276.3" y2="502.5" stroke="#111" stroke-width="1.3"/>
<path d="M276.3,306.0 L380.3,307.6" fill="none" stroke="#111" stroke-width="1.4"/>
<path d="M276.3,308.0 L380.3,308.3" fill="none" stroke="#111" stroke-width="1.6"/>
<path d="M276.60,381.20 L277.00,382.70 L277.65,381.40 L278.30,380.12 L278.95,378.87 L279.60,377.64 L280.25,376.44 L280.90,375.25 L281.55,374.09 L282.20,372.95 L282.85,371.83 L283.50,370.74 L284.15,369.66 L284.80,368.60 L285.45,367.56 L286.10,366.55 L286.75,365.55 L287.39,364.57 L288.04,363.61 L288.69,362.66 L289.34,361.74 L289.99,360.83 L290.64,359.93 L291.29,359.06 L291.94,358.20 L292.59,357.36 L293.24,356.53 L293.89,355.72 L294.54,354.92 L295.19,354.14 L295.84,353.37 L296.49,352.62 L297.14,351.88 L297.79,351.15 L298.44,350.44 L299.09,349.74 L299.74,349.06 L300.39,348.38 L301.04,347.72 L301.69,347.08 L302.34,346.44 L302.99,345.82 L303.64,345.20 L304.29,344.60 L304.94,344.01 L305.59,343.44 L306.24,342.87 L306.89,342.31 L307.54,341.76 L308.18,341.23 L308.83,340.70 L309.48,340.18 L310.13,339.68 L310.78,339.18 L311.43,338.69 L312.08,338.21 L312.73,337.74 L313.38,337.28 L314.03,336.83 L314.68,336.38 L315.33,335.95 L315.98,335.52 L316.63,335.10 L317.28,334.69 L317.93,334.28 L318.58,333.88 L319.23,333.49 L319.88,333.11 L320.53,332.74 L321.18,332.37 L321.83,332.01 L322.48,331.65 L323.13,331.30 L323.78,330.96 L324.43,330.63 L325.08,330.30 L325.73,329.98 L326.38,329.66 L327.03,329.35 L327.68,329.04 L328.33,328.74 L328.97,328.45 L329.62,328.16 L330.27,327.88 L330.92,327.60 L331.57,327.33 L332.22,327.06 L332.87,326.80 L333.52,326.54 L334.17,326.29 L334.82,326.04 L335.47,325.80 L336.12,325.56 L336.77,325.33 L337.42,325.10 L338.07,324.87 L338.72,324.65 L339.37,324.43 L340.02,324.22 L340.67,324.01 L341.32,323.80 L341.97,323.60 L342.62,323.40 L343.27,323.21 L343.92,323.02 L344.57,322.83 L345.22,322.65 L345.87,322.47 L346.52,322.29 L347.17,322.12 L347.82,321.95 L348.47,321.78 L349.12,321.62 L349.76,321.46 L350.41,321.30 L351.06,321.15 L351.71,320.99 L352.36,320.84 L353.01,320.70 L353.66,320.55 L354.31,320.41 L354.96,320.27 L355.61,320.14 L356.26,320.01 L356.91,319.88 L357.56,319.75 L358.21,319.62 L358.86,319.50 L359.51,319.38 L360.16,319.26 L360.81,319.14 L361.46,319.03 L362.11,318.91 L362.76,318.80 L363.41,318.70 L364.06,318.59 L364.71,318.48 L365.36,318.38 L366.01,318.28 L366.66,318.18 L367.31,318.09 L367.96,317.99 L368.61,317.90 L369.26,317.81 L369.91,317.72 L370.55,317.63 L371.20,317.54 L371.85,317.46 L372.50,317.38 L373.15,317.29 L373.80,317.21 L374.45,317.13 L375.10,317.06 L375.75,316.98 L376.40,316.91 L377.05,316.83 L377.70,316.76 L378.35,316.69 L379.00,316.62 L379.65,316.56 L380.30,316.49" fill="none" stroke="#111" stroke-width="1.4"/>
<path d="M276.60,441.90 L277.60,443.40 L278.25,441.02 L278.89,438.68 L279.54,436.39 L280.18,434.14 L280.83,431.93 L281.48,429.76 L282.12,427.63 L282.77,425.54 L283.41,423.49 L284.06,421.48 L284.71,419.50 L285.35,417.56 L286.00,415.66 L286.64,413.79 L287.29,411.96 L287.93,410.16 L288.58,408.40 L289.23,406.67 L289.87,404.97 L290.52,403.30 L291.16,401.66 L291.81,400.05 L292.46,398.47 L293.10,396.93 L293.75,395.41 L294.39,393.92 L295.04,392.45 L295.69,391.02 L296.33,389.61 L296.98,388.22 L297.62,386.86 L298.27,385.53 L298.92,384.22 L299.56,382.94 L300.21,381.68 L300.85,380.44 L301.50,379.23 L302.14,378.04 L302.79,376.87 L303.44,375.72 L304.08,374.59 L304.73,373.49 L305.37,372.40 L306.02,371.34 L306.67,370.29 L307.31,369.27 L307.96,368.26 L308.60,367.27 L309.25,366.30 L309.90,365.35 L310.54,364.42 L311.19,363.50 L311.83,362.60 L312.48,361.72 L313.13,360.85 L313.77,360.00 L314.42,359.17 L315.06,358.35 L315.71,357.54 L316.35,356.76 L317.00,355.98 L317.65,355.22 L318.29,354.47 L318.94,353.74 L319.58,353.02 L320.23,352.32 L320.88,351.63 L321.52,350.95 L322.17,350.28 L322.81,349.63 L323.46,348.98 L324.11,348.35 L324.75,347.73 L325.40,347.13 L326.04,346.53 L326.69,345.95 L327.34,345.37 L327.98,344.81 L328.63,344.26 L329.27,343.71 L329.92,343.18 L330.56,342.66 L331.21,342.15 L331.86,341.64 L332.50,341.15 L333.15,340.66 L333.79,340.19 L334.44,339.72 L335.09,339.26 L335.73,338.81 L336.38,338.37 L337.02,337.94 L337.67,337.51 L338.32,337.09 L338.96,336.68 L339.61,336.28 L340.25,335.89 L340.90,335.50 L341.55,335.12 L342.19,334.75 L342.84,334.38 L343.48,334.02 L344.13,333.67 L344.77,333.32 L345.42,332.98 L346.07,332.65 L346.71,332.32 L347.36,332.00 L348.00,331.68 L348.65,331.37 L349.30,331.07 L349.94,330.77 L350.59,330.48 L351.23,330.19 L351.88,329.91 L352.53,329.63 L353.17,329.36 L353.82,329.10 L354.46,328.84 L355.11,328.58 L355.76,328.33 L356.40,328.08 L357.05,327.84 L357.69,327.60 L358.34,327.37 L358.98,327.14 L359.63,326.91 L360.28,326.69 L360.92,326.47 L361.57,326.26 L362.21,326.05 L362.86,325.85 L363.51,325.65 L364.15,325.45 L364.80,325.25 L365.44,325.06 L366.09,324.88 L366.74,324.69 L367.38,324.51 L368.03,324.34 L368.67,324.16 L369.32,323.99 L369.97,323.83 L370.61,323.66 L371.26,323.50 L371.90,323.35 L372.55,323.19 L373.19,323.04 L373.84,322.89 L374.49,322.74 L375.13,322.60 L375.78,322.46 L376.42,322.32 L377.07,322.18 L377.72,322.05 L378.36,321.92 L379.01,321.79 L379.65,321.67 L380.30,321.54" fill="none" stroke="#111" stroke-width="1.4"/>
<path d="M276.60,466.90 L277.90,468.40 L278.54,465.56 L279.19,462.78 L279.83,460.05 L280.48,457.36 L281.12,454.73 L281.76,452.15 L282.41,449.61 L283.05,447.12 L283.70,444.68 L284.34,442.28 L284.98,439.92 L285.63,437.61 L286.27,435.35 L286.92,433.12 L287.56,430.94 L288.20,428.79 L288.85,426.69 L289.49,424.62 L290.14,422.59 L290.78,420.60 L291.42,418.65 L292.07,416.73 L292.71,414.85 L293.36,413.01 L294.00,411.19 L294.64,409.41 L295.29,407.67 L295.93,405.95 L296.58,404.27 L297.22,402.62 L297.86,401.00 L298.51,399.41 L299.15,397.85 L299.80,396.32 L300.44,394.81 L301.08,393.34 L301.73,391.89 L302.37,390.47 L303.02,389.07 L303.66,387.70 L304.31,386.36 L304.95,385.04 L305.59,383.74 L306.24,382.47 L306.88,381.22 L307.53,380.00 L308.17,378.80 L308.81,377.62 L309.46,376.46 L310.10,375.32 L310.75,374.21 L311.39,373.11 L312.03,372.04 L312.68,370.98 L313.32,369.95 L313.97,368.93 L314.61,367.93 L315.25,366.95 L315.90,365.99 L316.54,365.05 L317.19,364.12 L317.83,363.22 L318.47,362.32 L319.12,361.45 L319.76,360.59 L320.41,359.75 L321.05,358.92 L321.69,358.11 L322.34,357.31 L322.98,356.53 L323.63,355.76 L324.27,355.00 L324.91,354.26 L325.56,353.54 L326.20,352.83 L326.85,352.13 L327.49,351.44 L328.13,350.77 L328.78,350.10 L329.42,349.46 L330.07,348.82 L330.71,348.19 L331.35,347.58 L332.00,346.98 L332.64,346.38 L333.29,345.80 L333.93,345.23 L334.57,344.68 L335.22,344.13 L335.86,343.59 L336.51,343.06 L337.15,342.54 L337.79,342.03 L338.44,341.53 L339.08,341.04 L339.73,340.56 L340.37,340.09 L341.01,339.62 L341.66,339.17 L342.30,338.72 L342.95,338.28 L343.59,337.85 L344.23,337.43 L344.88,337.01 L345.52,336.61 L346.17,336.21 L346.81,335.81 L347.45,335.43 L348.10,335.05 L348.74,334.68 L349.39,334.32 L350.03,333.96 L350.67,333.61 L351.32,333.26 L351.96,332.93 L352.61,332.60 L353.25,332.27 L353.89,331.95 L354.54,331.64 L355.18,331.33 L355.83,331.03 L356.47,330.73 L357.12,330.44 L357.76,330.15 L358.40,329.87 L359.05,329.60 L359.69,329.33 L360.34,329.06 L360.98,328.80 L361.62,328.55 L362.27,328.30 L362.91,328.05 L363.56,327.81 L364.20,327.57 L364.84,327.34 L365.49,327.11 L366.13,326.89 L366.78,326.67 L367.42,326.45 L368.06,326.24 L368.71,326.03 L369.35,325.83 L370.00,325.63 L370.64,325.43 L371.28,325.24 L371.93,325.05 L372.57,324.86 L373.22,324.68 L373.86,324.50 L374.50,324.33 L375.15,324.15 L375.79,323.99 L376.44,323.82 L377.08,323.66 L377.72,323.50 L378.37,323.34 L379.01,323.18 L379.66,323.03 L380.30,322.88" fill="none" stroke="#111" stroke-width="1.4"/>
<path d="M276.60,485.40 L278.10,486.90 L278.74,483.73 L279.39,480.61 L280.03,477.56 L280.67,474.56 L281.31,471.61 L281.96,468.72 L282.60,465.88 L283.24,463.10 L283.88,460.36 L284.53,457.68 L285.17,455.05 L285.81,452.46 L286.46,449.92 L287.10,447.43 L287.74,444.99 L288.38,442.59 L289.03,440.23 L289.67,437.92 L290.31,435.65 L290.96,433.43 L291.60,431.24 L292.24,429.10 L292.88,426.99 L293.53,424.92 L294.17,422.89 L294.81,420.90 L295.45,418.95 L296.10,417.03 L296.74,415.14 L297.38,413.30 L298.03,411.48 L298.67,409.70 L299.31,407.95 L299.95,406.24 L300.60,404.55 L301.24,402.90 L301.88,401.28 L302.53,399.68 L303.17,398.12 L303.81,396.59 L304.45,395.08 L305.10,393.60 L305.74,392.15 L306.38,390.73 L307.02,389.33 L307.67,387.96 L308.31,386.61 L308.95,385.29 L309.60,383.99 L310.24,382.72 L310.88,381.47 L311.52,380.24 L312.17,379.04 L312.81,377.86 L313.45,376.70 L314.09,375.56 L314.74,374.44 L315.38,373.34 L316.02,372.26 L316.67,371.21 L317.31,370.17 L317.95,369.15 L318.59,368.15 L319.24,367.17 L319.88,366.21 L320.52,365.26 L321.17,364.34 L321.81,363.42 L322.45,362.53 L323.09,361.65 L323.74,360.79 L324.38,359.95 L325.02,359.12 L325.66,358.30 L326.31,357.50 L326.95,356.72 L327.59,355.95 L328.24,355.19 L328.88,354.45 L329.52,353.72 L330.16,353.01 L330.81,352.31 L331.45,351.62 L332.09,350.94 L332.74,350.28 L333.38,349.63 L334.02,348.99 L334.66,348.36 L335.31,347.75 L335.95,347.14 L336.59,346.55 L337.23,345.97 L337.88,345.39 L338.52,344.83 L339.16,344.28 L339.81,343.74 L340.45,343.21 L341.09,342.69 L341.73,342.18 L342.38,341.68 L343.02,341.19 L343.66,340.70 L344.31,340.23 L344.95,339.76 L345.59,339.30 L346.23,338.86 L346.88,338.42 L347.52,337.98 L348.16,337.56 L348.80,337.14 L349.45,336.73 L350.09,336.33 L350.73,335.94 L351.38,335.55 L352.02,335.17 L352.66,334.80 L353.30,334.44 L353.95,334.08 L354.59,333.72 L355.23,333.38 L355.87,333.04 L356.52,332.71 L357.16,332.38 L357.80,332.06 L358.45,331.74 L359.09,331.44 L359.73,331.13 L360.37,330.83 L361.02,330.54 L361.66,330.25 L362.30,329.97 L362.95,329.70 L363.59,329.43 L364.23,329.16 L364.87,328.90 L365.52,328.64 L366.16,328.39 L366.80,328.14 L367.44,327.90 L368.09,327.66 L368.73,327.43 L369.37,327.20 L370.02,326.97 L370.66,326.75 L371.30,326.54 L371.94,326.32 L372.59,326.11 L373.23,325.91 L373.87,325.71 L374.52,325.51 L375.16,325.32 L375.80,325.13 L376.44,324.94 L377.09,324.75 L377.73,324.57 L378.37,324.40 L379.01,324.22 L379.66,324.05 L380.30,323.89" fill="none" stroke="#111" stroke-width="1.4"/>
<path d="M276.60,500.50 L278.90,502.00 L279.54,498.58 L280.18,495.21 L280.81,491.91 L281.45,488.67 L282.09,485.49 L282.73,482.37 L283.36,479.30 L284.00,476.29 L284.64,473.34 L285.28,470.44 L285.92,467.59 L286.55,464.80 L287.19,462.05 L287.83,459.36 L288.47,456.72 L289.10,454.12 L289.74,451.57 L290.38,449.07 L291.02,446.62 L291.65,444.21 L292.29,441.84 L292.93,439.52 L293.57,437.24 L294.21,435.00 L294.84,432.80 L295.48,430.64 L296.12,428.52 L296.76,426.44 L297.39,424.40 L298.03,422.40 L298.67,420.43 L299.31,418.50 L299.95,416.61 L300.58,414.74 L301.22,412.92 L301.86,411.12 L302.50,409.36 L303.13,407.64 L303.77,405.94 L304.41,404.27 L305.05,402.64 L305.68,401.03 L306.32,399.46 L306.96,397.91 L307.60,396.39 L308.24,394.90 L308.87,393.44 L309.51,392.00 L310.15,390.59 L310.79,389.21 L311.42,387.85 L312.06,386.51 L312.70,385.20 L313.34,383.92 L313.98,382.66 L314.61,381.42 L315.25,380.20 L315.89,379.01 L316.53,377.83 L317.16,376.68 L317.80,375.55 L318.44,374.44 L319.08,373.36 L319.72,372.29 L320.35,371.24 L320.99,370.21 L321.63,369.20 L322.27,368.20 L322.90,367.23 L323.54,366.27 L324.18,365.33 L324.82,364.41 L325.45,363.51 L326.09,362.62 L326.73,361.75 L327.37,360.89 L328.01,360.05 L328.64,359.22 L329.28,358.41 L329.92,357.62 L330.56,356.84 L331.19,356.07 L331.83,355.32 L332.47,354.58 L333.11,353.86 L333.75,353.14 L334.38,352.45 L335.02,351.76 L335.66,351.09 L336.30,350.43 L336.93,349.78 L337.57,349.14 L338.21,348.52 L338.85,347.90 L339.48,347.30 L340.12,346.71 L340.76,346.13 L341.40,345.56 L342.04,345.00 L342.67,344.45 L343.31,343.91 L343.95,343.38 L344.59,342.86 L345.22,342.35 L345.86,341.85 L346.50,341.36 L347.14,340.87 L347.78,340.40 L348.41,339.93 L349.05,339.48 L349.69,339.03 L350.33,338.59 L350.96,338.16 L351.60,337.73 L352.24,337.32 L352.88,336.91 L353.52,336.51 L354.15,336.11 L354.79,335.73 L355.43,335.35 L356.07,334.97 L356.70,334.61 L357.34,334.25 L357.98,333.90 L358.62,333.55 L359.25,333.21 L359.89,332.88 L360.53,332.55 L361.17,332.23 L361.81,331.91 L362.44,331.60 L363.08,331.30 L363.72,331.00 L364.36,330.71 L364.99,330.42 L365.63,330.14 L366.27,329.86 L366.91,329.59 L367.55,329.32 L368.18,329.06 L368.82,328.80 L369.46,328.55 L370.10,328.30 L370.73,328.06 L371.37,327.82 L372.01,327.58 L372.65,327.35 L373.28,327.13 L373.92,326.90 L374.56,326.69 L375.20,326.47 L375.84,326.26 L376.47,326.06 L377.11,325.85 L377.75,325.65 L378.39,325.46 L379.02,325.27 L379.66,325.08 L380.30,324.89" fill="none" stroke="#111" stroke-width="1.4"/>
<text x="94" y="361" font-size="24">30 μM RPR</text>
<text x="463.6" y="32.8" font-size="42" font-weight="bold">B</text>
<line x1="561.2" y1="53.2" x2="561.2" y2="331.1" stroke="#000" stroke-width="2.1"/>
<line x1="560.2" y1="331.1" x2="906.6" y2="331.1" stroke="#000" stroke-width="2.1"/>
<line x1="555" y1="53.2" x2="561.2" y2="53.2" stroke="#000" stroke-width="2.1"/>
<line x1="555" y1="99.4" x2="561.2" y2="99.4" stroke="#000" stroke-width="2.1"/>
<line x1="555" y1="145.7" x2="561.2" y2="145.7" stroke="#000" stroke-width="2.1"/>
<line x1="555" y1="191.9" x2="561.2" y2="191.9" stroke="#000" stroke-width="2.1"/>
<line x1="555" y1="238.2" x2="561.2" y2="238.2" stroke="#000" stroke-width="2.1"/>
<line x1="555" y1="284.4" x2="561.2" y2="284.4" stroke="#000" stroke-width="2.1"/>
<line x1="555" y1="330.7" x2="561.2" y2="330.7" stroke="#000" stroke-width="2.1"/>
<line x1="557.6" y1="76.3" x2="561.2" y2="76.3" stroke="#000" stroke-width="2.1"/>
<line x1="557.6" y1="122.6" x2="561.2" y2="122.6" stroke="#000" stroke-width="2.1"/>
<line x1="557.6" y1="168.8" x2="561.2" y2="168.8" stroke="#000" stroke-width="2.1"/>
<line x1="557.6" y1="215.1" x2="561.2" y2="215.1" stroke="#000" stroke-width="2.1"/>
<line x1="557.6" y1="261.3" x2="561.2" y2="261.3" stroke="#000" stroke-width="2.1"/>
<line x1="557.6" y1="307.6" x2="561.2" y2="307.6" stroke="#000" stroke-width="2.1"/>
<line x1="595.8" y1="331.1" x2="595.8" y2="337.3" stroke="#000" stroke-width="2.1"/>
<line x1="645.9" y1="331.1" x2="645.9" y2="337.3" stroke="#000" stroke-width="2.1"/>
<line x1="695.9" y1="331.1" x2="695.9" y2="337.3" stroke="#000" stroke-width="2.1"/>
<line x1="746" y1="331.1" x2="746" y2="337.3" stroke="#000" stroke-width="2.1"/>
<line x1="796.1" y1="331.1" x2="796.1" y2="337.3" stroke="#000" stroke-width="2.1"/>
<line x1="846.1" y1="331.1" x2="846.1" y2="337.3" stroke="#000" stroke-width="2.1"/>
<line x1="896.2" y1="331.1" x2="896.2" y2="337.3" stroke="#000" stroke-width="2.1"/>
<line x1="570.8" y1="331.1" x2="570.8" y2="334.7" stroke="#000" stroke-width="2.1"/>
<line x1="620.9" y1="331.1" x2="620.9" y2="334.7" stroke="#000" stroke-width="2.1"/>
<line x1="670.9" y1="331.1" x2="670.9" y2="334.7" stroke="#000" stroke-width="2.1"/>
<line x1="721" y1="331.1" x2="721" y2="334.7" stroke="#000" stroke-width="2.1"/>
<line x1="771" y1="331.1" x2="771" y2="334.7" stroke="#000" stroke-width="2.1"/>
<line x1="821.1" y1="331.1" x2="821.1" y2="334.7" stroke="#000" stroke-width="2.1"/>
<line x1="871.1" y1="331.1" x2="871.1" y2="334.7" stroke="#000" stroke-width="2.1"/>
<text transform="translate(552.3,61.4) scale(0.965,1)" font-size="29.2" text-anchor="end">2.0</text>
<text transform="translate(552.3,107.6) scale(0.965,1)" font-size="29.2" text-anchor="end">1.5</text>
<text transform="translate(552.3,153.9) scale(0.965,1)" font-size="29.2" text-anchor="end">1.0</text>
<text transform="translate(552.3,200.1) scale(0.965,1)" font-size="29.2" text-anchor="end">0.5</text>
<text transform="translate(552.3,246.4) scale(0.965,1)" font-size="29.2" text-anchor="end">0.0</text>
<text transform="translate(552.3,292.6) scale(0.965,1)" font-size="29.2" text-anchor="end">-0.5</text>
<text transform="translate(552.3,338.9) scale(0.965,1)" font-size="29.2" text-anchor="end">-1.0</text>
<text transform="translate(595.8,362.5) scale(0.965,1)" font-size="29.2" text-anchor="middle">-60</text>
<text transform="translate(645.9,362.5) scale(0.965,1)" font-size="29.2" text-anchor="middle">-40</text>
<text transform="translate(695.9,362.5) scale(0.965,1)" font-size="29.2" text-anchor="middle">-20</text>
<text transform="translate(746,362.5) scale(0.965,1)" font-size="29.2" text-anchor="middle">0</text>
<text transform="translate(796.1,362.5) scale(0.965,1)" font-size="29.2" text-anchor="middle">20</text>
<text transform="translate(846.1,362.5) scale(0.965,1)" font-size="29.2" text-anchor="middle">40</text>
<text transform="translate(896.2,362.5) scale(0.965,1)" font-size="29.2" text-anchor="middle">60</text>
<path d="M570.79,237.80 L595.82,240.00 L620.85,241.70 L645.88,249.20 L670.91,261.60 L695.94,269.80 L720.97,256.80 L746.00,230.90 L771.03,203.50 L796.06,180.90 L821.09,164.70 L846.12,154.00 L871.15,148.00 L896.18,146.60" fill="none" stroke="#111" stroke-width="1.9"/>
<rect x="566.8" y="233.8" width="8" height="8" fill="#000"/>
<rect x="591.8" y="236" width="8" height="8" fill="#000"/>
<rect x="616.9" y="237.7" width="8" height="8" fill="#000"/>
<rect x="641.9" y="245.2" width="8" height="8" fill="#000"/>
<rect x="666.9" y="257.6" width="8" height="8" fill="#000"/>
<rect x="691.9" y="265.8" width="8" height="8" fill="#000"/>
<rect x="717" y="252.8" width="8" height="8" fill="#000"/>
<rect x="742" y="226.9" width="8" height="8" fill="#000"/>
<rect x="767" y="199.5" width="8" height="8" fill="#000"/>
<rect x="792.1" y="176.9" width="8" height="8" fill="#000"/>
<rect x="817.1" y="160.7" width="8" height="8" fill="#000"/>
<rect x="842.1" y="150" width="8" height="8" fill="#000"/>
<rect x="867.1" y="144" width="8" height="8" fill="#000"/>
<rect x="892.2" y="142.6" width="8" height="8" fill="#000"/>
<line x1="670.9" y1="271.9" x2="670.9" y2="282.7" stroke="#ff0000" stroke-width="1.6"/>
<line x1="667.5" y1="271.9" x2="674.3" y2="271.9" stroke="#ff0000" stroke-width="1.6"/>
<line x1="667.5" y1="282.7" x2="674.3" y2="282.7" stroke="#ff0000" stroke-width="1.6"/>
<line x1="695.9" y1="290.7" x2="695.9" y2="309.1" stroke="#ff0000" stroke-width="1.6"/>
<line x1="692.5" y1="290.7" x2="699.3" y2="290.7" stroke="#ff0000" stroke-width="1.6"/>
<line x1="692.5" y1="309.1" x2="699.3" y2="309.1" stroke="#ff0000" stroke-width="1.6"/>
<line x1="721" y1="265.9" x2="721" y2="281" stroke="#ff0000" stroke-width="1.6"/>
<line x1="717.6" y1="265.9" x2="724.4" y2="265.9" stroke="#ff0000" stroke-width="1.6"/>
<line x1="717.6" y1="281" x2="724.4" y2="281" stroke="#ff0000" stroke-width="1.6"/>
<line x1="746" y1="221.5" x2="746" y2="229" stroke="#ff0000" stroke-width="1.6"/>
<line x1="742.6" y1="221.5" x2="749.4" y2="221.5" stroke="#ff0000" stroke-width="1.6"/>
<line x1="742.6" y1="229" x2="749.4" y2="229" stroke="#ff0000" stroke-width="1.6"/>
<line x1="771" y1="174.4" x2="771" y2="186.5" stroke="#ff0000" stroke-width="1.6"/>
<line x1="767.6" y1="174.4" x2="774.4" y2="174.4" stroke="#ff0000" stroke-width="1.6"/>
<line x1="767.6" y1="186.5" x2="774.4" y2="186.5" stroke="#ff0000" stroke-width="1.6"/>
<line x1="796.1" y1="137.5" x2="796.1" y2="154.3" stroke="#ff0000" stroke-width="1.6"/>
<line x1="792.7" y1="137.5" x2="799.5" y2="137.5" stroke="#ff0000" stroke-width="1.6"/>
<line x1="792.7" y1="154.3" x2="799.5" y2="154.3" stroke="#ff0000" stroke-width="1.6"/>
<line x1="821.1" y1="111.7" x2="821.1" y2="132.1" stroke="#ff0000" stroke-width="1.6"/>
<line x1="817.7" y1="111.7" x2="824.5" y2="111.7" stroke="#ff0000" stroke-width="1.6"/>
<line x1="817.7" y1="132.1" x2="824.5" y2="132.1" stroke="#ff0000" stroke-width="1.6"/>
<line x1="846.1" y1="97.6" x2="846.1" y2="118.7" stroke="#ff0000" stroke-width="1.6"/>
<line x1="842.7" y1="97.6" x2="849.5" y2="97.6" stroke="#ff0000" stroke-width="1.6"/>
<line x1="842.7" y1="118.7" x2="849.5" y2="118.7" stroke="#ff0000" stroke-width="1.6"/>
<line x1="871.1" y1="92.7" x2="871.1" y2="113.3" stroke="#ff0000" stroke-width="1.6"/>
<line x1="867.8" y1="92.7" x2="874.5" y2="92.7" stroke="#ff0000" stroke-width="1.6"/>
<line x1="867.8" y1="113.3" x2="874.5" y2="113.3" stroke="#ff0000" stroke-width="1.6"/>
<line x1="896.2" y1="95.5" x2="896.2" y2="112.7" stroke="#ff0000" stroke-width="1.6"/>
<line x1="892.8" y1="95.5" x2="899.6" y2="95.5" stroke="#ff0000" stroke-width="1.6"/>
<line x1="892.8" y1="112.7" x2="899.6" y2="112.7" stroke="#ff0000" stroke-width="1.6"/>
<path d="M570.79,237.80 L595.82,240.00 L620.85,243.80 L645.88,252.90 L670.91,277.10 L695.94,299.80 L720.97,273.40 L746.00,225.20 L771.03,180.90 L796.06,146.00 L821.09,121.80 L846.12,108.20 L871.15,102.80 L896.18,104.20" fill="none" stroke="#ff0000" stroke-width="1.7"/>
<circle cx="570.8" cy="237.8" r="4.5" fill="#ff0000"/>
<circle cx="595.8" cy="240" r="4.5" fill="#ff0000"/>
<circle cx="620.9" cy="243.8" r="4.5" fill="#ff0000"/>
<circle cx="645.9" cy="252.9" r="4.5" fill="#ff0000"/>
<circle cx="670.9" cy="277.1" r="4.5" fill="#ff0000"/>
<circle cx="695.9" cy="299.8" r="4.5" fill="#ff0000"/>
<circle cx="721" cy="273.4" r="4.5" fill="#ff0000"/>
<circle cx="746" cy="225.2" r="4.5" fill="#ff0000"/>
<circle cx="771" cy="180.9" r="4.5" fill="#ff0000"/>
<circle cx="796.1" cy="146" r="4.5" fill="#ff0000"/>
<circle cx="821.1" cy="121.8" r="4.5" fill="#ff0000"/>
<circle cx="846.1" cy="108.2" r="4.5" fill="#ff0000"/>
<circle cx="871.1" cy="102.8" r="4.5" fill="#ff0000"/>
<circle cx="896.2" cy="104.2" r="4.5" fill="#ff0000"/>
<line x1="587.1" y1="81.7" x2="620.7" y2="81.7" stroke="#111" stroke-width="1.8"/>
<rect x="600" y="77.8" width="8" height="8" fill="#000"/>
<text x="625" y="86.4" font-size="24">control</text>
<line x1="587.1" y1="113.6" x2="620.7" y2="113.6" stroke="#ff0000" stroke-width="1.8"/>
<circle cx="604" cy="113.6" r="4.6" fill="#ff0000"/>
<text x="626.5" y="118.7" font-size="24">30 μM RPR</text>
<text x="691.2" y="399" font-size="28" font-style="italic">V</text>
<text x="709.2" y="409.2" font-size="26">t</text>
<text x="723.8" y="399" font-size="28">(mV)</text>
<text transform="translate(491,188.2) rotate(-90) scale(1.035,1)" x="0" y="0" text-anchor="middle" font-size="26"><tspan font-style="italic" font-size="27">I</tspan><tspan dy="10" font-size="24.5">peak</tspan><tspan dy="-10" font-style="italic" font-size="27">/I</tspan><tspan dy="10" font-size="24.5">max</tspan></text>
<text x="2.2" y="517.8" font-size="42" font-weight="bold">C</text>
<line x1="103" y1="528.5" x2="103" y2="812.6" stroke="#000" stroke-width="2.1"/>
<line x1="102" y1="807" x2="448" y2="807" stroke="#000" stroke-width="2.1"/>
<line x1="96.8" y1="528.5" x2="103" y2="528.5" stroke="#000" stroke-width="2.1"/>
<line x1="96.8" y1="574.1" x2="103" y2="574.1" stroke="#000" stroke-width="2.1"/>
<line x1="96.8" y1="619.8" x2="103" y2="619.8" stroke="#000" stroke-width="2.1"/>
<line x1="96.8" y1="665.5" x2="103" y2="665.5" stroke="#000" stroke-width="2.1"/>
<line x1="96.8" y1="711.1" x2="103" y2="711.1" stroke="#000" stroke-width="2.1"/>
<line x1="96.8" y1="756.8" x2="103" y2="756.8" stroke="#000" stroke-width="2.1"/>
<line x1="96.8" y1="802.4" x2="103" y2="802.4" stroke="#000" stroke-width="2.1"/>
<line x1="99.4" y1="551.3" x2="103" y2="551.3" stroke="#000" stroke-width="2.1"/>
<line x1="99.4" y1="597" x2="103" y2="597" stroke="#000" stroke-width="2.1"/>
<line x1="99.4" y1="642.6" x2="103" y2="642.6" stroke="#000" stroke-width="2.1"/>
<line x1="99.4" y1="688.3" x2="103" y2="688.3" stroke="#000" stroke-width="2.1"/>
<line x1="99.4" y1="733.9" x2="103" y2="733.9" stroke="#000" stroke-width="2.1"/>
<line x1="99.4" y1="779.6" x2="103" y2="779.6" stroke="#000" stroke-width="2.1"/>
<line x1="102.8" y1="807" x2="102.8" y2="813.2" stroke="#000" stroke-width="2.1"/>
<line x1="189.1" y1="807" x2="189.1" y2="813.2" stroke="#000" stroke-width="2.1"/>
<line x1="275.3" y1="807" x2="275.3" y2="813.2" stroke="#000" stroke-width="2.1"/>
<line x1="361.5" y1="807" x2="361.5" y2="813.2" stroke="#000" stroke-width="2.1"/>
<line x1="447.8" y1="807" x2="447.8" y2="813.2" stroke="#000" stroke-width="2.1"/>
<line x1="124.4" y1="807" x2="124.4" y2="810.6" stroke="#000" stroke-width="2.1"/>
<line x1="145.9" y1="807" x2="145.9" y2="810.6" stroke="#000" stroke-width="2.1"/>
<line x1="167.5" y1="807" x2="167.5" y2="810.6" stroke="#000" stroke-width="2.1"/>
<line x1="210.6" y1="807" x2="210.6" y2="810.6" stroke="#000" stroke-width="2.1"/>
<line x1="232.2" y1="807" x2="232.2" y2="810.6" stroke="#000" stroke-width="2.1"/>
<line x1="253.7" y1="807" x2="253.7" y2="810.6" stroke="#000" stroke-width="2.1"/>
<line x1="296.9" y1="807" x2="296.9" y2="810.6" stroke="#000" stroke-width="2.1"/>
<line x1="318.4" y1="807" x2="318.4" y2="810.6" stroke="#000" stroke-width="2.1"/>
<line x1="340" y1="807" x2="340" y2="810.6" stroke="#000" stroke-width="2.1"/>
<line x1="383.1" y1="807" x2="383.1" y2="810.6" stroke="#000" stroke-width="2.1"/>
<line x1="404.7" y1="807" x2="404.7" y2="810.6" stroke="#000" stroke-width="2.1"/>
<line x1="426.2" y1="807" x2="426.2" y2="810.6" stroke="#000" stroke-width="2.1"/>
<text transform="translate(93.8,536.7) scale(0.965,1)" font-size="29.2" text-anchor="end">3.0</text>
<text transform="translate(93.8,582.4) scale(0.965,1)" font-size="29.2" text-anchor="end">2.5</text>
<text transform="translate(93.8,628) scale(0.965,1)" font-size="29.2" text-anchor="end">2.0</text>
<text transform="translate(93.8,673.7) scale(0.965,1)" font-size="29.2" text-anchor="end">1.5</text>
<text transform="translate(93.8,719.3) scale(0.965,1)" font-size="29.2" text-anchor="end">1.0</text>
<text transform="translate(93.8,765) scale(0.965,1)" font-size="29.2" text-anchor="end">0.5</text>
<text transform="translate(93.8,810.6) scale(0.965,1)" font-size="29.2" text-anchor="end">0.0</text>
<text transform="translate(102.8,838.3) scale(0.965,1)" font-size="29.2" text-anchor="middle">-80</text>
<text transform="translate(189.1,838.3) scale(0.965,1)" font-size="29.2" text-anchor="middle">-40</text>
<text transform="translate(275.3,838.3) scale(0.965,1)" font-size="29.2" text-anchor="middle">0</text>
<text transform="translate(361.5,838.3) scale(0.965,1)" font-size="29.2" text-anchor="middle">40</text>
<text transform="translate(447.8,838.3) scale(0.965,1)" font-size="29.2" text-anchor="middle">80</text>
<path d="M102.82,802.07 L104.26,802.06 L105.71,802.05 L107.15,802.04 L108.59,802.02 L110.04,802.01 L111.48,802.00 L112.92,801.99 L114.37,801.97 L115.81,801.96 L117.25,801.94 L118.70,801.93 L120.14,801.91 L121.58,801.89 L123.03,801.88 L124.47,801.86 L125.91,801.84 L127.36,801.82 L128.80,801.79 L130.24,801.77 L131.69,801.75 L133.13,801.72 L134.57,801.69 L136.02,801.66 L137.46,801.63 L138.90,801.60 L140.35,801.57 L141.79,801.53 L143.23,801.49 L144.68,801.45 L146.12,801.41 L147.56,801.36 L149.01,801.31 L150.45,801.26 L151.89,801.20 L153.34,801.14 L154.78,801.08 L156.22,801.01 L157.67,800.94 L159.11,800.86 L160.55,800.78 L162.00,800.69 L163.44,800.60 L164.88,800.50 L166.33,800.39 L167.77,800.28 L169.21,800.15 L170.66,800.02 L172.10,799.88 L173.54,799.72 L174.99,799.56 L176.43,799.39 L177.87,799.20 L179.32,799.00 L180.76,798.78 L182.20,798.55 L183.65,798.30 L185.09,798.03 L186.53,797.74 L187.98,797.44 L189.42,797.11 L190.86,796.76 L192.31,796.38 L193.75,795.98 L195.19,795.55 L196.64,795.09 L198.08,794.60 L199.52,794.08 L200.97,793.52 L202.41,792.93 L203.85,792.31 L205.30,791.65 L206.74,790.95 L208.18,790.21 L209.63,789.43 L211.07,788.61 L212.51,787.75 L213.96,786.85 L215.40,785.91 L216.84,784.93 L218.29,783.92 L219.73,782.86 L221.17,781.78 L222.62,780.66 L224.06,779.50 L225.50,778.33 L226.95,777.12 L228.39,775.90 L229.83,774.66 L231.28,773.41 L232.72,772.15 L234.16,770.88 L235.61,769.62 L237.05,768.36 L238.49,767.10 L239.94,765.86 L241.38,764.63 L242.82,763.43 L244.27,762.24 L245.71,761.08 L247.15,759.95 L248.60,758.85 L250.04,757.78 L251.48,756.74 L252.93,755.73 L254.37,754.76 L255.81,753.83 L257.26,752.93 L258.70,752.06 L260.14,751.23 L261.59,750.43 L263.03,749.66 L264.47,748.92 L265.92,748.21 L267.36,747.53 L268.80,746.88 L270.25,746.25 L271.69,745.65 L273.13,745.07 L274.58,744.51 L276.02,743.97 L277.47,743.45 L278.91,742.95 L280.35,742.46 L281.80,741.99 L283.24,741.52 L284.68,741.07 L286.13,740.64 L287.57,740.21 L289.01,739.79 L290.46,739.37 L291.90,738.97 L293.34,738.57 L294.79,738.17 L296.23,737.78 L297.67,737.39 L299.12,737.01 L300.56,736.63 L302.00,736.25 L303.45,735.87 L304.89,735.49 L306.33,735.11 L307.78,734.74 L309.22,734.36 L310.66,733.98 L312.11,733.60 L313.55,733.23 L314.99,732.85 L316.44,732.46 L317.88,732.08 L319.32,731.70 L320.77,731.31 L322.21,730.92 L323.65,730.53 L325.10,730.14 L326.54,729.75 L327.98,729.35 L329.43,728.96 L330.87,728.56 L332.31,728.16 L333.76,727.75 L335.20,727.35 L336.64,726.94 L338.09,726.54 L339.53,726.13 L340.97,725.72 L342.42,725.31 L343.86,724.89 L345.30,724.48 L346.75,724.07 L348.19,723.65 L349.63,723.23 L351.08,722.82 L352.52,722.40 L353.96,721.99 L355.41,721.57 L356.85,721.15 L358.29,720.74 L359.74,720.32 L361.18,719.91 L362.62,719.50 L364.07,719.08 L365.51,718.67 L366.95,718.26 L368.40,717.85 L369.84,717.45 L371.28,717.04 L372.73,716.64 L374.17,716.24 L375.61,715.84 L377.06,715.45 L378.50,715.06 L379.94,714.67 L381.39,714.28 L382.83,713.90 L384.27,713.52 L385.72,713.14 L387.16,712.77 L388.60,712.40 L390.05,712.03 L391.49,711.67 L392.93,711.31 L394.38,710.96 L395.82,710.61 L397.26,710.27 L398.71,709.93 L400.15,709.59 L401.59,709.26 L403.04,708.93 L404.48,708.61 L405.92,708.29 L407.37,707.97 L408.81,707.66 L410.25,707.36 L411.70,707.06 L413.14,706.77 L414.58,706.48 L416.03,706.19 L417.47,705.91 L418.91,705.63 L420.36,705.36 L421.80,705.10 L423.24,704.84 L424.69,704.58 L426.13,704.33 L427.57,704.08 L429.02,703.84 L430.46,703.60 L431.90,703.37 L433.35,703.14 L434.79,702.92 L436.23,702.70 L437.68,702.49 L439.12,702.28 L440.56,702.07 L442.01,701.87 L443.45,701.67 L444.89,701.48 L446.34,701.29 L447.78,701.11" fill="none" stroke="#111" stroke-width="1.4"/>
<rect x="120.2" y="797.3" width="8.4" height="8.4" fill="#000"/>
<rect x="141.7" y="796.8" width="8.4" height="8.4" fill="#000"/>
<rect x="163.3" y="796.2" width="8.4" height="8.4" fill="#000"/>
<rect x="184.9" y="794" width="8.4" height="8.4" fill="#000"/>
<rect x="206.4" y="784.7" width="8.4" height="8.4" fill="#000"/>
<rect x="228" y="767.7" width="8.4" height="8.4" fill="#000"/>
<rect x="249.5" y="751.5" width="8.4" height="8.4" fill="#000"/>
<rect x="271.1" y="740.5" width="8.4" height="8.4" fill="#000"/>
<rect x="292.7" y="733.2" width="8.4" height="8.4" fill="#000"/>
<rect x="314.2" y="727" width="8.4" height="8.4" fill="#000"/>
<rect x="335.8" y="721.7" width="8.4" height="8.4" fill="#000"/>
<rect x="357.3" y="716.3" width="8.4" height="8.4" fill="#000"/>
<rect x="378.9" y="709.6" width="8.4" height="8.4" fill="#000"/>
<rect x="400.5" y="704.2" width="8.4" height="8.4" fill="#000"/>
<line x1="232.2" y1="730.2" x2="232.2" y2="746" stroke="#ff2020" stroke-width="1.3"/>
<line x1="228.6" y1="730.2" x2="235.8" y2="730.2" stroke="#ff2020" stroke-width="1.3"/>
<line x1="228.6" y1="746" x2="235.8" y2="746" stroke="#ff2020" stroke-width="1.3"/>
<line x1="253.7" y1="689.8" x2="253.7" y2="714" stroke="#ff2020" stroke-width="1.3"/>
<line x1="250.1" y1="689.8" x2="257.3" y2="689.8" stroke="#ff2020" stroke-width="1.3"/>
<line x1="250.1" y1="714" x2="257.3" y2="714" stroke="#ff2020" stroke-width="1.3"/>
<line x1="275.3" y1="660.5" x2="275.3" y2="690.1" stroke="#ff2020" stroke-width="1.3"/>
<line x1="271.7" y1="660.5" x2="278.9" y2="660.5" stroke="#ff2020" stroke-width="1.3"/>
<line x1="271.7" y1="690.1" x2="278.9" y2="690.1" stroke="#ff2020" stroke-width="1.3"/>
<line x1="296.9" y1="638.4" x2="296.9" y2="671.2" stroke="#ff2020" stroke-width="1.3"/>
<line x1="293.3" y1="638.4" x2="300.5" y2="638.4" stroke="#ff2020" stroke-width="1.3"/>
<line x1="293.3" y1="671.2" x2="300.5" y2="671.2" stroke="#ff2020" stroke-width="1.3"/>
<line x1="318.4" y1="617.7" x2="318.4" y2="654.6" stroke="#ff2020" stroke-width="1.3"/>
<line x1="314.8" y1="617.7" x2="322" y2="617.7" stroke="#ff2020" stroke-width="1.3"/>
<line x1="314.8" y1="654.6" x2="322" y2="654.6" stroke="#ff2020" stroke-width="1.3"/>
<line x1="340" y1="598.8" x2="340" y2="638.9" stroke="#ff2020" stroke-width="1.3"/>
<line x1="336.4" y1="598.8" x2="343.6" y2="598.8" stroke="#ff2020" stroke-width="1.3"/>
<line x1="336.4" y1="638.9" x2="343.6" y2="638.9" stroke="#ff2020" stroke-width="1.3"/>
<line x1="361.5" y1="581.4" x2="361.5" y2="624.1" stroke="#ff2020" stroke-width="1.3"/>
<line x1="357.9" y1="581.4" x2="365.1" y2="581.4" stroke="#ff2020" stroke-width="1.3"/>
<line x1="357.9" y1="624.1" x2="365.1" y2="624.1" stroke="#ff2020" stroke-width="1.3"/>
<line x1="383.1" y1="565.2" x2="383.1" y2="610.4" stroke="#ff2020" stroke-width="1.3"/>
<line x1="379.5" y1="565.2" x2="386.7" y2="565.2" stroke="#ff2020" stroke-width="1.3"/>
<line x1="379.5" y1="610.4" x2="386.7" y2="610.4" stroke="#ff2020" stroke-width="1.3"/>
<line x1="404.7" y1="551" x2="404.7" y2="598" stroke="#ff2020" stroke-width="1.3"/>
<line x1="401.1" y1="551" x2="408.3" y2="551" stroke="#ff2020" stroke-width="1.3"/>
<line x1="401.1" y1="598" x2="408.3" y2="598" stroke="#ff2020" stroke-width="1.3"/>
<path d="M102.82,802.37 L104.26,802.35 L105.71,802.34 L107.15,802.33 L108.59,802.31 L110.04,802.30 L111.48,802.28 L112.92,802.26 L114.37,802.25 L115.81,802.23 L117.25,802.21 L118.70,802.19 L120.14,802.16 L121.58,802.14 L123.03,802.12 L124.47,802.09 L125.91,802.06 L127.36,802.04 L128.80,802.01 L130.24,801.97 L131.69,801.94 L133.13,801.91 L134.57,801.87 L136.02,801.83 L137.46,801.79 L138.90,801.74 L140.35,801.69 L141.79,801.64 L143.23,801.59 L144.68,801.53 L146.12,801.47 L147.56,801.40 L149.01,801.33 L150.45,801.26 L151.89,801.18 L153.34,801.09 L154.78,801.00 L156.22,800.90 L157.67,800.79 L159.11,800.68 L160.55,800.56 L162.00,800.42 L163.44,800.28 L164.88,800.13 L166.33,799.96 L167.77,799.78 L169.21,799.59 L170.66,799.38 L172.10,799.16 L173.54,798.92 L174.99,798.65 L176.43,798.37 L177.87,798.06 L179.32,797.73 L180.76,797.36 L182.20,796.97 L183.65,796.54 L185.09,796.08 L186.53,795.58 L187.98,795.04 L189.42,794.45 L190.86,793.82 L192.31,793.13 L193.75,792.38 L195.19,791.58 L196.64,790.71 L198.08,789.76 L199.52,788.75 L200.97,787.65 L202.41,786.48 L203.85,785.21 L205.30,783.85 L206.74,782.40 L208.18,780.84 L209.63,779.19 L211.07,777.42 L212.51,775.55 L213.96,773.57 L215.40,771.48 L216.84,769.28 L218.29,766.97 L219.73,764.56 L221.17,762.05 L222.62,759.45 L224.06,756.76 L225.50,754.00 L226.95,751.16 L228.39,748.27 L229.83,745.33 L231.28,742.36 L232.72,739.37 L234.16,736.36 L235.61,733.37 L237.05,730.39 L238.49,727.44 L239.94,724.52 L241.38,721.66 L242.82,718.86 L244.27,716.12 L245.71,713.45 L247.15,710.87 L248.60,708.36 L250.04,705.94 L251.48,703.60 L252.93,701.35 L254.37,699.18 L255.81,697.09 L257.26,695.09 L258.70,693.16 L260.14,691.30 L261.59,689.51 L263.03,687.79 L264.47,686.13 L265.92,684.52 L267.36,682.97 L268.80,681.46 L270.25,679.99 L271.69,678.56 L273.13,677.17 L274.58,675.80 L276.02,674.46 L277.47,673.15 L278.91,671.85 L280.35,670.57 L281.80,669.30 L283.24,668.04 L284.68,666.79 L286.13,665.55 L287.57,664.31 L289.01,663.07 L290.46,661.84 L291.90,660.60 L293.34,659.36 L294.79,658.12 L296.23,656.88 L297.67,655.63 L299.12,654.37 L300.56,653.12 L302.00,651.85 L303.45,650.58 L304.89,649.31 L306.33,648.02 L307.78,646.74 L309.22,645.45 L310.66,644.15 L312.11,642.85 L313.55,641.54 L314.99,640.24 L316.44,638.93 L317.88,637.61 L319.32,636.30 L320.77,634.99 L322.21,633.67 L323.65,632.36 L325.10,631.05 L326.54,629.74 L327.98,628.43 L329.43,627.14 L330.87,625.84 L332.31,624.55 L333.76,623.27 L335.20,622.00 L336.64,620.73 L338.09,619.48 L339.53,618.24 L340.97,617.01 L342.42,615.79 L343.86,614.58 L345.30,613.39 L346.75,612.21 L348.19,611.04 L349.63,609.90 L351.08,608.76 L352.52,607.65 L353.96,606.55 L355.41,605.47 L356.85,604.41 L358.29,603.36 L359.74,602.34 L361.18,601.33 L362.62,600.35 L364.07,599.38 L365.51,598.43 L366.95,597.50 L368.40,596.60 L369.84,595.71 L371.28,594.84 L372.73,593.99 L374.17,593.17 L375.61,592.36 L377.06,591.57 L378.50,590.80 L379.94,590.05 L381.39,589.33 L382.83,588.62 L384.27,587.93 L385.72,587.25 L387.16,586.60 L388.60,585.97 L390.05,585.35 L391.49,584.75 L392.93,584.17 L394.38,583.61 L395.82,583.06 L397.26,582.53 L398.71,582.01 L400.15,581.52 L401.59,581.03 L403.04,580.57 L404.48,580.11 L405.92,579.67 L407.37,579.25 L408.81,578.84 L410.25,578.44 L411.70,578.06 L413.14,577.69 L414.58,577.33 L416.03,576.98 L417.47,576.65 L418.91,576.32 L420.36,576.01 L421.80,575.71 L423.24,575.42 L424.69,575.14 L426.13,574.87 L427.57,574.60 L429.02,574.35 L430.46,574.11 L431.90,573.87 L433.35,573.65 L434.79,573.43 L436.23,573.22 L437.68,573.02 L439.12,572.82 L440.56,572.63 L442.01,572.45 L443.45,572.28 L444.89,572.11 L446.34,571.94 L447.78,571.79" fill="none" stroke="#ff0000" stroke-width="1.4"/>
<circle cx="124.4" cy="801.5" r="4.7" fill="#ff0000"/>
<circle cx="145.9" cy="801" r="4.7" fill="#ff0000"/>
<circle cx="167.5" cy="800" r="4.7" fill="#ff0000"/>
<circle cx="189.1" cy="795.6" r="4.7" fill="#ff0000"/>
<circle cx="210.6" cy="779.2" r="4.7" fill="#ff0000"/>
<circle cx="232.2" cy="738.4" r="4.7" fill="#ff0000"/>
<circle cx="253.7" cy="702.1" r="4.7" fill="#ff0000"/>
<circle cx="275.3" cy="675.5" r="4.7" fill="#ff0000"/>
<circle cx="296.9" cy="654.6" r="4.7" fill="#ff0000"/>
<circle cx="318.4" cy="636.3" r="4.7" fill="#ff0000"/>
<circle cx="340" cy="619" r="4.7" fill="#ff0000"/>
<circle cx="361.5" cy="602.9" r="4.7" fill="#ff0000"/>
<circle cx="383.1" cy="587.8" r="4.7" fill="#ff0000"/>
<circle cx="404.7" cy="574.4" r="4.7" fill="#ff0000"/>
<rect x="130.3" y="563.7" width="8.3" height="8.2" fill="#000"/>
<text x="153.8" y="572.8" font-size="24">control</text>
<circle cx="134.4" cy="599.5" r="4.7" fill="#ff0000"/>
<text x="154.8" y="604.3" font-size="24">30 μM RPR</text>
<text x="225.2" y="869.5" font-size="28" font-style="italic">V</text>
<text x="243.4" y="881" font-size="26">t</text>
<text x="257.2" y="869.5" font-size="28">(mV)</text>
<text transform="translate(29.5,665.3) rotate(-90) scale(1.03,1)" x="0" y="0" text-anchor="middle" font-size="24"><tspan font-style="italic" font-size="27">I</tspan><tspan dy="9.5" font-size="24">tail-peak</tspan><tspan dy="-9.5" font-style="italic" font-size="27">/I</tspan><tspan dy="9.5" font-size="24">tail-max</tspan></text>
<text x="463.5" y="517.4" font-size="42" font-weight="bold">D</text>
<line x1="560.4" y1="528.8" x2="560.4" y2="812.7" stroke="#000" stroke-width="2.1"/>
<line x1="559.4" y1="807" x2="905.7" y2="807" stroke="#000" stroke-width="2.1"/>
<line x1="554.2" y1="528.8" x2="560.4" y2="528.8" stroke="#000" stroke-width="2.1"/>
<line x1="554.2" y1="583.4" x2="560.4" y2="583.4" stroke="#000" stroke-width="2.1"/>
<line x1="554.2" y1="638" x2="560.4" y2="638" stroke="#000" stroke-width="2.1"/>
<line x1="554.2" y1="692.5" x2="560.4" y2="692.5" stroke="#000" stroke-width="2.1"/>
<line x1="554.2" y1="747.1" x2="560.4" y2="747.1" stroke="#000" stroke-width="2.1"/>
<line x1="554.2" y1="801.7" x2="560.4" y2="801.7" stroke="#000" stroke-width="2.1"/>
<line x1="556.8" y1="556.1" x2="560.4" y2="556.1" stroke="#000" stroke-width="2.1"/>
<line x1="556.8" y1="610.7" x2="560.4" y2="610.7" stroke="#000" stroke-width="2.1"/>
<line x1="556.8" y1="665.2" x2="560.4" y2="665.2" stroke="#000" stroke-width="2.1"/>
<line x1="556.8" y1="719.8" x2="560.4" y2="719.8" stroke="#000" stroke-width="2.1"/>
<line x1="556.8" y1="774.4" x2="560.4" y2="774.4" stroke="#000" stroke-width="2.1"/>
<line x1="560.5" y1="807" x2="560.5" y2="813.2" stroke="#000" stroke-width="2.1"/>
<line x1="646.8" y1="807" x2="646.8" y2="813.2" stroke="#000" stroke-width="2.1"/>
<line x1="733.1" y1="807" x2="733.1" y2="813.2" stroke="#000" stroke-width="2.1"/>
<line x1="819.4" y1="807" x2="819.4" y2="813.2" stroke="#000" stroke-width="2.1"/>
<line x1="905.7" y1="807" x2="905.7" y2="813.2" stroke="#000" stroke-width="2.1"/>
<line x1="582.1" y1="807" x2="582.1" y2="810.6" stroke="#000" stroke-width="2.1"/>
<line x1="603.6" y1="807" x2="603.6" y2="810.6" stroke="#000" stroke-width="2.1"/>
<line x1="625.2" y1="807" x2="625.2" y2="810.6" stroke="#000" stroke-width="2.1"/>
<line x1="668.4" y1="807" x2="668.4" y2="810.6" stroke="#000" stroke-width="2.1"/>
<line x1="690" y1="807" x2="690" y2="810.6" stroke="#000" stroke-width="2.1"/>
<line x1="711.5" y1="807" x2="711.5" y2="810.6" stroke="#000" stroke-width="2.1"/>
<line x1="754.7" y1="807" x2="754.7" y2="810.6" stroke="#000" stroke-width="2.1"/>
<line x1="776.2" y1="807" x2="776.2" y2="810.6" stroke="#000" stroke-width="2.1"/>
<line x1="797.8" y1="807" x2="797.8" y2="810.6" stroke="#000" stroke-width="2.1"/>
<line x1="841" y1="807" x2="841" y2="810.6" stroke="#000" stroke-width="2.1"/>
<line x1="862.6" y1="807" x2="862.6" y2="810.6" stroke="#000" stroke-width="2.1"/>
<line x1="884.1" y1="807" x2="884.1" y2="810.6" stroke="#000" stroke-width="2.1"/>
<text transform="translate(550.6,537) scale(0.965,1)" font-size="29.2" text-anchor="end">1.0</text>
<text transform="translate(550.6,591.6) scale(0.965,1)" font-size="29.2" text-anchor="end">0.8</text>
<text transform="translate(550.6,646.2) scale(0.965,1)" font-size="29.2" text-anchor="end">0.6</text>
<text transform="translate(550.6,700.7) scale(0.965,1)" font-size="29.2" text-anchor="end">0.4</text>
<text transform="translate(550.6,755.3) scale(0.965,1)" font-size="29.2" text-anchor="end">0.2</text>
<text transform="translate(550.6,809.9) scale(0.965,1)" font-size="29.2" text-anchor="end">0.0</text>
<text transform="translate(560.5,838.3) scale(0.965,1)" font-size="29.2" text-anchor="middle">-80</text>
<text transform="translate(646.8,838.3) scale(0.965,1)" font-size="29.2" text-anchor="middle">-40</text>
<text transform="translate(733.1,838.3) scale(0.965,1)" font-size="29.2" text-anchor="middle">0</text>
<text transform="translate(819.4,838.3) scale(0.965,1)" font-size="29.2" text-anchor="middle">40</text>
<text transform="translate(905.7,838.3) scale(0.965,1)" font-size="29.2" text-anchor="middle">80</text>
<path d="M560.50,801.31 L561.94,801.30 L563.39,801.30 L564.83,801.29 L566.28,801.29 L567.72,801.28 L569.17,801.27 L570.61,801.27 L572.05,801.26 L573.50,801.25 L574.94,801.24 L576.39,801.23 L577.83,801.22 L579.28,801.21 L580.72,801.20 L582.17,801.19 L583.61,801.18 L585.05,801.16 L586.50,801.15 L587.94,801.14 L589.39,801.12 L590.83,801.10 L592.28,801.08 L593.72,801.06 L595.16,801.04 L596.61,801.02 L598.05,800.99 L599.50,800.96 L600.94,800.93 L602.39,800.90 L603.83,800.87 L605.27,800.83 L606.72,800.79 L608.16,800.75 L609.61,800.70 L611.05,800.65 L612.50,800.60 L613.94,800.54 L615.39,800.48 L616.83,800.41 L618.27,800.34 L619.72,800.26 L621.16,800.17 L622.61,800.08 L624.05,799.97 L625.50,799.86 L626.94,799.74 L628.38,799.61 L629.83,799.47 L631.27,799.32 L632.72,799.15 L634.16,798.96 L635.61,798.77 L637.05,798.55 L638.49,798.31 L639.94,798.06 L641.38,797.78 L642.83,797.47 L644.27,797.14 L645.72,796.78 L647.16,796.39 L648.61,795.96 L650.05,795.49 L651.49,794.98 L652.94,794.43 L654.38,793.83 L655.83,793.18 L657.27,792.46 L658.72,791.69 L660.16,790.85 L661.60,789.94 L663.05,788.95 L664.49,787.87 L665.94,786.71 L667.38,785.44 L668.83,784.08 L670.27,782.61 L671.72,781.02 L673.16,779.30 L674.60,777.46 L676.05,775.47 L677.49,773.35 L678.94,771.07 L680.38,768.64 L681.83,766.04 L683.27,763.28 L684.71,760.35 L686.16,757.25 L687.60,753.98 L689.05,750.54 L690.49,746.92 L691.94,743.15 L693.38,739.21 L694.82,735.12 L696.27,730.89 L697.71,726.53 L699.16,722.05 L700.60,717.48 L702.05,712.82 L703.49,708.09 L704.94,703.32 L706.38,698.52 L707.82,693.72 L709.27,688.93 L710.71,684.17 L712.16,679.46 L713.60,674.83 L715.05,670.28 L716.49,665.84 L717.93,661.51 L719.38,657.30 L720.82,653.23 L722.27,649.30 L723.71,645.52 L725.16,641.89 L726.60,638.41 L728.04,635.08 L729.49,631.90 L730.93,628.88 L732.38,626.00 L733.82,623.25 L735.27,620.65 L736.71,618.17 L738.16,615.81 L739.60,613.58 L741.04,611.45 L742.49,609.42 L743.93,607.49 L745.38,605.65 L746.82,603.89 L748.27,602.21 L749.71,600.60 L751.15,599.05 L752.60,597.57 L754.04,596.14 L755.49,594.75 L756.93,593.42 L758.38,592.12 L759.82,590.87 L761.26,589.64 L762.71,588.45 L764.15,587.29 L765.60,586.15 L767.04,585.04 L768.49,583.94 L769.93,582.87 L771.38,581.82 L772.82,580.78 L774.26,579.75 L775.71,578.75 L777.15,577.75 L778.60,576.77 L780.04,575.80 L781.49,574.85 L782.93,573.90 L784.37,572.97 L785.82,572.05 L787.26,571.14 L788.71,570.24 L790.15,569.35 L791.60,568.48 L793.04,567.61 L794.48,566.76 L795.93,565.92 L797.37,565.09 L798.82,564.28 L800.26,563.48 L801.71,562.69 L803.15,561.91 L804.60,561.15 L806.04,560.40 L807.48,559.67 L808.93,558.95 L810.37,558.24 L811.82,557.55 L813.26,556.87 L814.71,556.21 L816.15,555.56 L817.59,554.93 L819.04,554.32 L820.48,553.71 L821.93,553.13 L823.37,552.55 L824.82,552.00 L826.26,551.45 L827.71,550.93 L829.15,550.41 L830.59,549.91 L832.04,549.43 L833.48,548.96 L834.93,548.50 L836.37,548.06 L837.82,547.63 L839.26,547.22 L840.70,546.81 L842.15,546.43 L843.59,546.05 L845.04,545.68 L846.48,545.33 L847.93,544.99 L849.37,544.66 L850.81,544.35 L852.26,544.04 L853.70,543.75 L855.15,543.46 L856.59,543.19 L858.04,542.92 L859.48,542.67 L860.93,542.42 L862.37,542.18 L863.81,541.96 L865.26,541.74 L866.70,541.53 L868.15,541.32 L869.59,541.13 L871.04,540.94 L872.48,540.76 L873.92,540.59 L875.37,540.42 L876.81,540.26 L878.26,540.10 L879.70,539.96 L881.15,539.81 L882.59,539.68 L884.03,539.55 L885.48,539.42 L886.92,539.30 L888.37,539.19 L889.81,539.08 L891.26,538.97 L892.70,538.87 L894.15,538.77 L895.59,538.67 L897.03,538.58 L898.48,538.50 L899.92,538.42 L901.37,538.34 L902.81,538.26 L904.26,538.19 L905.70,538.12" fill="none" stroke="#111" stroke-width="1.8"/>
<rect x="578.1" y="796" width="8" height="8" fill="#000"/>
<rect x="599.6" y="795.8" width="8" height="8" fill="#000"/>
<rect x="621.2" y="795.5" width="8" height="8" fill="#000"/>
<rect x="642.8" y="794" width="8" height="8" fill="#000"/>
<rect x="664.4" y="782.2" width="8" height="8" fill="#000"/>
<rect x="686" y="743.2" width="8" height="8" fill="#000"/>
<rect x="707.5" y="677.2" width="8" height="8" fill="#000"/>
<rect x="729.1" y="622" width="8" height="8" fill="#000"/>
<rect x="750.7" y="590.9" width="8" height="8" fill="#000"/>
<rect x="772.2" y="573.4" width="8" height="8" fill="#000"/>
<rect x="793.8" y="561.1" width="8" height="8" fill="#000"/>
<rect x="815.4" y="550.9" width="8" height="8" fill="#000"/>
<rect x="837" y="543.1" width="8" height="8" fill="#000"/>
<rect x="858.6" y="537.5" width="8" height="8" fill="#000"/>
<path d="M560.50,803.05 L561.94,803.04 L563.39,803.02 L564.83,803.01 L566.28,803.00 L567.72,802.98 L569.17,802.97 L570.61,802.95 L572.05,802.94 L573.50,802.92 L574.94,802.90 L576.39,802.88 L577.83,802.87 L579.28,802.85 L580.72,802.82 L582.17,802.80 L583.61,802.78 L585.05,802.76 L586.50,802.73 L587.94,802.70 L589.39,802.68 L590.83,802.65 L592.28,802.62 L593.72,802.58 L595.16,802.55 L596.61,802.51 L598.05,802.48 L599.50,802.44 L600.94,802.39 L602.39,802.35 L603.83,802.30 L605.27,802.25 L606.72,802.20 L608.16,802.14 L609.61,802.08 L611.05,802.02 L612.50,801.95 L613.94,801.88 L615.39,801.80 L616.83,801.72 L618.27,801.63 L619.72,801.53 L621.16,801.43 L622.61,801.32 L624.05,801.20 L625.50,801.07 L626.94,800.93 L628.38,800.78 L629.83,800.61 L631.27,800.43 L632.72,800.24 L634.16,800.02 L635.61,799.79 L637.05,799.54 L638.49,799.26 L639.94,798.95 L641.38,798.62 L642.83,798.25 L644.27,797.85 L645.72,797.40 L647.16,796.91 L648.61,796.37 L650.05,795.78 L651.49,795.12 L652.94,794.39 L654.38,793.60 L655.83,792.71 L657.27,791.74 L658.72,790.67 L660.16,789.49 L661.60,788.19 L663.05,786.76 L664.49,785.19 L665.94,783.46 L667.38,781.57 L668.83,779.51 L670.27,777.26 L671.72,774.81 L673.16,772.16 L674.60,769.29 L676.05,766.20 L677.49,762.89 L678.94,759.34 L680.38,755.57 L681.83,751.58 L683.27,747.38 L684.71,742.98 L686.16,738.40 L687.60,733.66 L689.05,728.79 L690.49,723.80 L691.94,718.75 L693.38,713.64 L694.82,708.53 L696.27,703.44 L697.71,698.41 L699.16,693.47 L700.60,688.64 L702.05,683.95 L703.49,679.42 L704.94,675.06 L706.38,670.90 L707.82,666.93 L709.27,663.17 L710.71,659.61 L712.16,656.25 L713.60,653.09 L715.05,650.13 L716.49,647.34 L717.93,644.73 L719.38,642.27 L720.82,639.97 L722.27,637.81 L723.71,635.78 L725.16,633.87 L726.60,632.06 L728.04,630.34 L729.49,628.72 L730.93,627.16 L732.38,625.68 L733.82,624.26 L735.27,622.89 L736.71,621.57 L738.16,620.28 L739.60,619.03 L741.04,617.81 L742.49,616.62 L743.93,615.45 L745.38,614.29 L746.82,613.15 L748.27,612.02 L749.71,610.90 L751.15,609.79 L752.60,608.68 L754.04,607.58 L755.49,606.48 L756.93,605.39 L758.38,604.29 L759.82,603.20 L761.26,602.11 L762.71,601.02 L764.15,599.92 L765.60,598.83 L767.04,597.74 L768.49,596.64 L769.93,595.55 L771.38,594.46 L772.82,593.37 L774.26,592.28 L775.71,591.19 L777.15,590.10 L778.60,589.02 L780.04,587.94 L781.49,586.87 L782.93,585.80 L784.37,584.74 L785.82,583.68 L787.26,582.63 L788.71,581.59 L790.15,580.55 L791.60,579.53 L793.04,578.51 L794.48,577.51 L795.93,576.51 L797.37,575.53 L798.82,574.55 L800.26,573.59 L801.71,572.64 L803.15,571.71 L804.60,570.79 L806.04,569.88 L807.48,568.99 L808.93,568.11 L810.37,567.25 L811.82,566.40 L813.26,565.57 L814.71,564.75 L816.15,563.95 L817.59,563.16 L819.04,562.40 L820.48,561.64 L821.93,560.91 L823.37,560.19 L824.82,559.48 L826.26,558.80 L827.71,558.13 L829.15,557.47 L830.59,556.83 L832.04,556.21 L833.48,555.61 L834.93,555.01 L836.37,554.44 L837.82,553.88 L839.26,553.34 L840.70,552.81 L842.15,552.29 L843.59,551.79 L845.04,551.31 L846.48,550.84 L847.93,550.38 L849.37,549.93 L850.81,549.50 L852.26,549.09 L853.70,548.68 L855.15,548.29 L856.59,547.91 L858.04,547.54 L859.48,547.19 L860.93,546.84 L862.37,546.51 L863.81,546.18 L865.26,545.87 L866.70,545.57 L868.15,545.28 L869.59,545.00 L871.04,544.72 L872.48,544.46 L873.92,544.21 L875.37,543.96 L876.81,543.72 L878.26,543.49 L879.70,543.27 L881.15,543.06 L882.59,542.85 L884.03,542.65 L885.48,542.46 L886.92,542.28 L888.37,542.10 L889.81,541.93 L891.26,541.76 L892.70,541.60 L894.15,541.45 L895.59,541.30 L897.03,541.16 L898.48,541.02 L899.92,540.89 L901.37,540.76 L902.81,540.63 L904.26,540.52 L905.70,540.40" fill="none" stroke="#ff0000" stroke-width="1.8"/>
<circle cx="582.1" cy="801.2" r="4.7" fill="#ff0000"/>
<circle cx="603.6" cy="801.2" r="4.7" fill="#ff0000"/>
<circle cx="625.2" cy="801" r="4.7" fill="#ff0000"/>
<circle cx="646.8" cy="799.6" r="4.7" fill="#ff0000"/>
<circle cx="668.4" cy="783.6" r="4.7" fill="#ff0000"/>
<circle cx="690" cy="722.3" r="4.7" fill="#ff0000"/>
<circle cx="711.5" cy="660.5" r="4.7" fill="#ff0000"/>
<circle cx="733.1" cy="626.1" r="4.7" fill="#ff0000"/>
<circle cx="754.7" cy="604.7" r="4.7" fill="#ff0000"/>
<circle cx="776.2" cy="588.7" r="4.7" fill="#ff0000"/>
<circle cx="797.8" cy="575.8" r="4.7" fill="#ff0000"/>
<circle cx="819.4" cy="564.5" r="4.7" fill="#ff0000"/>
<circle cx="841" cy="554.3" r="4.7" fill="#ff0000"/>
<circle cx="862.6" cy="544.6" r="4.7" fill="#ff0000"/>
<rect x="585.9" y="542.5" width="8" height="8" fill="#000"/>
<text x="607.6" y="551" font-size="24">control</text>
<circle cx="589.8" cy="578.6" r="4.7" fill="#ff0000"/>
<text x="610.6" y="582.9" font-size="24">30 μM RPR</text>
<text x="696.2" y="874.3" font-size="28" font-style="italic">V</text>
<text x="714.6" y="883.1" font-size="26">t</text>
<text x="729" y="874.3" font-size="28">(mV)</text>
<text transform="translate(490.8,678.6) rotate(-90)" x="0" y="0" text-anchor="middle" font-size="26"><tspan font-style="italic" font-size="27">g/g</tspan><tspan dy="10" font-style="italic" font-size="24.5">max</tspan></text>
<rect x="319.56" y="204.71" width="5.08" height="3.69" fill="#fff"/>
<rect x="327.16" y="204.71" width="5.09" height="3.69" fill="#fff"/>
<rect x="325.66" y="247.91" width="5.08" height="3.69" fill="#fff"/>
<rect x="333.26" y="247.91" width="5.09" height="3.69" fill="#fff"/>
<rect x="514.19" y="104.77" width="5.82" height="4.08" fill="#fff"/>
<rect x="522.90" y="104.77" width="5.80" height="4.08" fill="#fff"/>
<rect x="514.19" y="151.02" width="5.82" height="4.08" fill="#fff"/>
<rect x="522.90" y="151.02" width="5.80" height="4.08" fill="#fff"/>
<rect x="514.19" y="336.02" width="5.82" height="4.08" fill="#fff"/>
<rect x="522.90" y="336.02" width="5.80" height="4.08" fill="#fff"/>
<rect x="55.69" y="670.77" width="5.82" height="4.08" fill="#fff"/>
<rect x="64.40" y="670.77" width="5.80" height="4.08" fill="#fff"/>
<rect x="55.69" y="716.42" width="5.82" height="4.08" fill="#fff"/>
<rect x="64.40" y="716.42" width="5.80" height="4.08" fill="#fff"/>
<rect x="512.49" y="534.12" width="5.82" height="4.08" fill="#fff"/>
<rect x="521.20" y="534.12" width="5.80" height="4.08" fill="#fff"/>
</svg>
</body></html>
